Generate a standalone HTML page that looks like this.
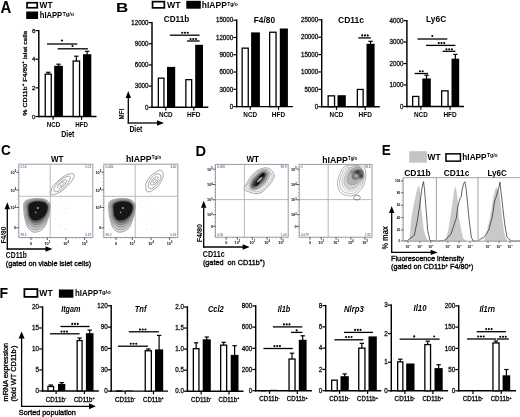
<!DOCTYPE html>
<html><head><meta charset="utf-8"><style>
html,body{margin:0;padding:0;background:#fff;}
svg{display:block;font-family:"Liberation Sans",sans-serif;will-change:transform;}
</style></head><body>
<svg width="520" height="417" viewBox="0 0 520 417">
<rect width="520" height="417" fill="#fff"/>
<defs><filter id="bl1" x="-20%" y="-20%" width="140%" height="140%"><feGaussianBlur stdDeviation="0.7"/></filter>
<filter id="bl2" x="-20%" y="-20%" width="140%" height="140%"><feGaussianBlur stdDeviation="0.55"/></filter>
<filter id="bl3" x="-50%" y="-50%" width="200%" height="200%"><feGaussianBlur stdDeviation="0.9"/></filter></defs>
<text x="0.5" y="13.1" font-size="16" text-anchor="start" font-weight="bold" textLength="10.8" lengthAdjust="spacingAndGlyphs">A</text>
<rect x="27.05" y="2.75" width="10.2" height="5" fill="#fff" stroke="#000" stroke-width="1.7"/>
<rect x="26.2" y="11.5" width="11.9" height="7.5" fill="#000"/>
<text x="46" y="8.1" font-size="9.3" text-anchor="middle" font-weight="bold" textLength="13" lengthAdjust="spacingAndGlyphs">WT</text>
<text x="51" y="18.1" font-size="9" text-anchor="middle" font-weight="bold" textLength="22.4" lengthAdjust="spacingAndGlyphs">hIAPP</text>
<text x="68.3" y="15.93" font-size="5.6" text-anchor="middle" font-weight="bold" textLength="11.6" lengthAdjust="spacingAndGlyphs">Tg/o</text>
<line x1="38.8" y1="29.9" x2="38.8" y2="117.2" stroke="#000" stroke-width="1.45"/>
<line x1="35.4" y1="116.5" x2="38.8" y2="116.5" stroke="#000" stroke-width="1.2"/>
<text x="35.3" y="118.56" font-size="6" text-anchor="end" stroke="#111" stroke-width="0.27" fill="#111">0</text>
<line x1="35.4" y1="87.86" x2="38.8" y2="87.86" stroke="#000" stroke-width="1.2"/>
<text x="35.3" y="89.92" font-size="6" text-anchor="end" stroke="#111" stroke-width="0.27" fill="#111">2</text>
<line x1="35.4" y1="59.22" x2="38.8" y2="59.22" stroke="#000" stroke-width="1.2"/>
<text x="35.3" y="61.28" font-size="6" text-anchor="end" stroke="#111" stroke-width="0.27" fill="#111">4</text>
<line x1="35.4" y1="30.58" x2="38.8" y2="30.58" stroke="#000" stroke-width="1.2"/>
<text x="35.3" y="32.64" font-size="6" text-anchor="end" stroke="#111" stroke-width="0.27" fill="#111">6</text>
<line x1="38.1" y1="116.5" x2="96.5" y2="116.5" stroke="#000" stroke-width="1.45"/>
<line x1="53.1" y1="116.5" x2="53.1" y2="119.7" stroke="#000" stroke-width="1.2"/>
<line x1="81.6" y1="116.5" x2="81.6" y2="119.7" stroke="#000" stroke-width="1.2"/>
<rect x="45.25" y="74.15" width="6" height="42.35" fill="#fff" stroke="#000" stroke-width="1.3"/>
<line x1="48.25" y1="72.3" x2="48.25" y2="74" stroke="#000" stroke-width="1.2"/>
<line x1="46.05" y1="72.3" x2="50.45" y2="72.3" stroke="#000" stroke-width="1.2"/>
<rect x="54.2" y="65.8" width="8.7" height="50.7" fill="#000"/>
<line x1="58.55" y1="64.2" x2="58.55" y2="66.3" stroke="#000" stroke-width="1.2"/>
<line x1="56.35" y1="64.2" x2="60.75" y2="64.2" stroke="#000" stroke-width="1.2"/>
<rect x="73.15" y="61.05" width="6.4" height="55.45" fill="#fff" stroke="#000" stroke-width="1.3"/>
<line x1="76.35" y1="56.2" x2="76.35" y2="60.9" stroke="#000" stroke-width="1.2"/>
<line x1="74.15" y1="56.2" x2="78.55" y2="56.2" stroke="#000" stroke-width="1.2"/>
<rect x="83" y="54.2" width="8.3" height="62.3" fill="#000"/>
<line x1="87.15" y1="51.3" x2="87.15" y2="54.7" stroke="#000" stroke-width="1.2"/>
<line x1="84.95" y1="51.3" x2="89.35" y2="51.3" stroke="#000" stroke-width="1.2"/>
<line x1="47" y1="44" x2="77.3" y2="44" stroke="#000" stroke-width="1.3"/>
<circle cx="62" cy="40.5" r="1.05" fill="#000"/>
<line x1="57.7" y1="48.8" x2="87.9" y2="48.8" stroke="#000" stroke-width="1.3"/>
<circle cx="72.5" cy="46" r="1.05" fill="#000"/>
<text x="53.45" y="126.57" font-size="6.3" text-anchor="middle" font-weight="bold" textLength="13.5" lengthAdjust="spacingAndGlyphs">NCD</text>
<text x="81.55" y="126.57" font-size="6.3" text-anchor="middle" font-weight="bold" textLength="12.7" lengthAdjust="spacingAndGlyphs">HFD</text>
<text x="67.85" y="136.89" font-size="8.4" text-anchor="middle" font-weight="bold" textLength="13.1" lengthAdjust="spacingAndGlyphs">Diet</text>
<text x="24.4" y="75.43" font-size="6.2" text-anchor="middle" stroke="#000" stroke-width="0.28" textLength="85" lengthAdjust="spacingAndGlyphs" transform="rotate(-90 24.4 73.3)">% CD11b<tspan font-size="4" dy="-2.5">+</tspan><tspan dy="2.5"> F4/80</tspan><tspan font-size="4" dy="-2.5">+</tspan><tspan dy="2.5"> islet cells</tspan></text>
<text x="116" y="12.14" font-size="13.5" text-anchor="start" font-weight="bold" textLength="12.3" lengthAdjust="spacingAndGlyphs">B</text>
<rect x="152.55" y="1.65" width="11.8" height="6.2" fill="#fff" stroke="#000" stroke-width="1.7"/>
<rect x="186.3" y="0.8" width="14.5" height="7.9" fill="#000"/>
<text x="173.85" y="7.7" font-size="9" text-anchor="middle" font-weight="bold" textLength="13.5" lengthAdjust="spacingAndGlyphs">WT</text>
<text x="214.3" y="7.7" font-size="9" text-anchor="middle" font-weight="bold" textLength="25" lengthAdjust="spacingAndGlyphs">hIAPP</text>
<text x="232.5" y="5.53" font-size="5.6" text-anchor="middle" font-weight="bold" textLength="10.6" lengthAdjust="spacingAndGlyphs">Tg/o</text>
<line x1="128.3" y1="123.6" x2="128.3" y2="97.4" stroke="#000" stroke-width="1.3"/>
<path d="M128.3 90.9 L125.6 97.9 L131 97.9 Z" fill="#000" stroke="none" stroke-width="1"/>
<line x1="127.65" y1="123" x2="157.5" y2="123" stroke="#000" stroke-width="1.3"/>
<path d="M164 123 L157 120.3 L157 125.7 Z" fill="#000" stroke="none" stroke-width="1"/>
<text x="121.7" y="116.68" font-size="7.8" text-anchor="middle" font-weight="bold" textLength="10.8" lengthAdjust="spacingAndGlyphs" transform="rotate(-90 121.7 114)">MFI</text>
<text x="135.9" y="131.52" font-size="8.2" text-anchor="middle" font-weight="bold" textLength="13" lengthAdjust="spacingAndGlyphs">Diet</text>
<line x1="152" y1="21.9" x2="152" y2="108" stroke="#000" stroke-width="1.45"/>
<line x1="148.6" y1="107.3" x2="152" y2="107.3" stroke="#000" stroke-width="1.2"/>
<text x="148.5" y="109.5" font-size="6.4" text-anchor="end" stroke="#111" stroke-width="0.29" fill="#111" textLength="3.45" lengthAdjust="spacingAndGlyphs">0</text>
<line x1="148.6" y1="86.12" x2="152" y2="86.12" stroke="#000" stroke-width="1.2"/>
<text x="148.5" y="88.33" font-size="6.4" text-anchor="end" stroke="#111" stroke-width="0.29" fill="#111" textLength="13.8" lengthAdjust="spacingAndGlyphs">3000</text>
<line x1="148.6" y1="64.95" x2="152" y2="64.95" stroke="#000" stroke-width="1.2"/>
<text x="148.5" y="67.15" font-size="6.4" text-anchor="end" stroke="#111" stroke-width="0.29" fill="#111" textLength="13.8" lengthAdjust="spacingAndGlyphs">6000</text>
<line x1="148.6" y1="43.78" x2="152" y2="43.78" stroke="#000" stroke-width="1.2"/>
<text x="148.5" y="45.98" font-size="6.4" text-anchor="end" stroke="#111" stroke-width="0.29" fill="#111" textLength="13.8" lengthAdjust="spacingAndGlyphs">9000</text>
<line x1="148.6" y1="22.6" x2="152" y2="22.6" stroke="#000" stroke-width="1.2"/>
<text x="148.5" y="24.8" font-size="6.4" text-anchor="end" stroke="#111" stroke-width="0.29" fill="#111" textLength="17.25" lengthAdjust="spacingAndGlyphs">12000</text>
<line x1="151.3" y1="107.3" x2="208.3" y2="107.3" stroke="#000" stroke-width="1.45"/>
<line x1="165.8" y1="107.3" x2="165.8" y2="110.5" stroke="#000" stroke-width="1.2"/>
<line x1="193.8" y1="107.3" x2="193.8" y2="110.5" stroke="#000" stroke-width="1.2"/>
<rect x="158.35" y="78.15" width="5.6" height="29.15" fill="#fff" stroke="#000" stroke-width="1.3"/>
<rect x="167" y="66.9" width="8.2" height="40.4" fill="#000"/>
<rect x="185.85" y="79.65" width="5.8" height="27.65" fill="#fff" stroke="#000" stroke-width="1.3"/>
<rect x="195.2" y="44.8" width="7.8" height="62.5" fill="#000"/>
<text x="176.5" y="21.83" font-size="9.4" text-anchor="middle" font-weight="bold" textLength="25.4" lengthAdjust="spacingAndGlyphs">CD11b</text>
<line x1="169.8" y1="35.2" x2="199.6" y2="35.2" stroke="#000" stroke-width="1.3"/>
<circle cx="182.25" cy="32.8" r="1.05" fill="#000"/>
<circle cx="185" cy="32.8" r="1.05" fill="#000"/>
<circle cx="187.75" cy="32.8" r="1.05" fill="#000"/>
<line x1="187" y1="41" x2="199.6" y2="41" stroke="#000" stroke-width="1.3"/>
<circle cx="190.55" cy="39" r="1.05" fill="#000"/>
<circle cx="193.3" cy="39" r="1.05" fill="#000"/>
<circle cx="196.05" cy="39" r="1.05" fill="#000"/>
<text x="165.8" y="117.47" font-size="6.6" text-anchor="middle" font-weight="bold" textLength="13.8" lengthAdjust="spacingAndGlyphs">NCD</text>
<text x="193.8" y="117.47" font-size="6.6" text-anchor="middle" font-weight="bold" textLength="13.4" lengthAdjust="spacingAndGlyphs">HFD</text>
<line x1="236.7" y1="19.5" x2="236.7" y2="107.3" stroke="#000" stroke-width="1.45"/>
<line x1="233.3" y1="106.6" x2="236.7" y2="106.6" stroke="#000" stroke-width="1.2"/>
<text x="233.2" y="108.8" font-size="6.4" text-anchor="end" stroke="#111" stroke-width="0.29" fill="#111" textLength="3.45" lengthAdjust="spacingAndGlyphs">0</text>
<line x1="233.3" y1="89.32" x2="236.7" y2="89.32" stroke="#000" stroke-width="1.2"/>
<text x="233.2" y="91.52" font-size="6.4" text-anchor="end" stroke="#111" stroke-width="0.29" fill="#111" textLength="13.8" lengthAdjust="spacingAndGlyphs">3000</text>
<line x1="233.3" y1="72.04" x2="236.7" y2="72.04" stroke="#000" stroke-width="1.2"/>
<text x="233.2" y="74.24" font-size="6.4" text-anchor="end" stroke="#111" stroke-width="0.29" fill="#111" textLength="13.8" lengthAdjust="spacingAndGlyphs">6000</text>
<line x1="233.3" y1="54.76" x2="236.7" y2="54.76" stroke="#000" stroke-width="1.2"/>
<text x="233.2" y="56.96" font-size="6.4" text-anchor="end" stroke="#111" stroke-width="0.29" fill="#111" textLength="13.8" lengthAdjust="spacingAndGlyphs">9000</text>
<line x1="233.3" y1="37.48" x2="236.7" y2="37.48" stroke="#000" stroke-width="1.2"/>
<text x="233.2" y="39.68" font-size="6.4" text-anchor="end" stroke="#111" stroke-width="0.29" fill="#111" textLength="17.25" lengthAdjust="spacingAndGlyphs">12000</text>
<line x1="233.3" y1="20.2" x2="236.7" y2="20.2" stroke="#000" stroke-width="1.2"/>
<text x="233.2" y="22.4" font-size="6.4" text-anchor="end" stroke="#111" stroke-width="0.29" fill="#111" textLength="17.25" lengthAdjust="spacingAndGlyphs">15000</text>
<line x1="236" y1="106.6" x2="292.9" y2="106.6" stroke="#000" stroke-width="1.45"/>
<line x1="250.2" y1="106.6" x2="250.2" y2="109.8" stroke="#000" stroke-width="1.2"/>
<line x1="278.5" y1="106.6" x2="278.5" y2="109.8" stroke="#000" stroke-width="1.2"/>
<rect x="242.15" y="48.15" width="6.1" height="58.45" fill="#fff" stroke="#000" stroke-width="1.3"/>
<rect x="251.1" y="32.4" width="8.8" height="74.2" fill="#000"/>
<rect x="269.65" y="32.25" width="6.4" height="74.35" fill="#fff" stroke="#000" stroke-width="1.3"/>
<rect x="279.8" y="28.5" width="8.1" height="78.1" fill="#000"/>
<text x="264.4" y="23.43" font-size="9.4" text-anchor="middle" font-weight="bold" textLength="21.2" lengthAdjust="spacingAndGlyphs">F4/80</text>
<text x="250.2" y="116.77" font-size="6.6" text-anchor="middle" font-weight="bold" textLength="13.8" lengthAdjust="spacingAndGlyphs">NCD</text>
<text x="278.5" y="116.77" font-size="6.6" text-anchor="middle" font-weight="bold" textLength="13.4" lengthAdjust="spacingAndGlyphs">HFD</text>
<line x1="321.7" y1="19.1" x2="321.7" y2="107.4" stroke="#000" stroke-width="1.45"/>
<line x1="318.3" y1="106.7" x2="321.7" y2="106.7" stroke="#000" stroke-width="1.2"/>
<text x="318.2" y="108.9" font-size="6.4" text-anchor="end" stroke="#111" stroke-width="0.29" fill="#111" textLength="3.45" lengthAdjust="spacingAndGlyphs">0</text>
<line x1="318.3" y1="89.32" x2="321.7" y2="89.32" stroke="#000" stroke-width="1.2"/>
<text x="318.2" y="91.52" font-size="6.4" text-anchor="end" stroke="#111" stroke-width="0.29" fill="#111" textLength="13.8" lengthAdjust="spacingAndGlyphs">5000</text>
<line x1="318.3" y1="71.94" x2="321.7" y2="71.94" stroke="#000" stroke-width="1.2"/>
<text x="318.2" y="74.14" font-size="6.4" text-anchor="end" stroke="#111" stroke-width="0.29" fill="#111" textLength="17.25" lengthAdjust="spacingAndGlyphs">10000</text>
<line x1="318.3" y1="54.56" x2="321.7" y2="54.56" stroke="#000" stroke-width="1.2"/>
<text x="318.2" y="56.76" font-size="6.4" text-anchor="end" stroke="#111" stroke-width="0.29" fill="#111" textLength="17.25" lengthAdjust="spacingAndGlyphs">15000</text>
<line x1="318.3" y1="37.18" x2="321.7" y2="37.18" stroke="#000" stroke-width="1.2"/>
<text x="318.2" y="39.38" font-size="6.4" text-anchor="end" stroke="#111" stroke-width="0.29" fill="#111" textLength="17.25" lengthAdjust="spacingAndGlyphs">20000</text>
<line x1="318.3" y1="19.8" x2="321.7" y2="19.8" stroke="#000" stroke-width="1.2"/>
<text x="318.2" y="22" font-size="6.4" text-anchor="end" stroke="#111" stroke-width="0.29" fill="#111" textLength="17.25" lengthAdjust="spacingAndGlyphs">25000</text>
<line x1="321" y1="106.7" x2="379.8" y2="106.7" stroke="#000" stroke-width="1.45"/>
<line x1="336.5" y1="106.7" x2="336.5" y2="109.9" stroke="#000" stroke-width="1.2"/>
<line x1="365.2" y1="106.7" x2="365.2" y2="109.9" stroke="#000" stroke-width="1.2"/>
<rect x="328.15" y="95.85" width="6.4" height="10.85" fill="#fff" stroke="#000" stroke-width="1.3"/>
<rect x="337.5" y="95.2" width="8.3" height="11.5" fill="#000"/>
<rect x="357.35" y="89.45" width="5.8" height="17.25" fill="#fff" stroke="#000" stroke-width="1.3"/>
<rect x="366.5" y="43.8" width="8.1" height="62.9" fill="#000"/>
<line x1="370.55" y1="41.3" x2="370.55" y2="44.3" stroke="#000" stroke-width="1.2"/>
<line x1="368.35" y1="41.3" x2="372.75" y2="41.3" stroke="#000" stroke-width="1.2"/>
<text x="351" y="23.23" font-size="9.4" text-anchor="middle" font-weight="bold" textLength="26" lengthAdjust="spacingAndGlyphs">CD11c</text>
<line x1="358.3" y1="37.9" x2="370.8" y2="37.9" stroke="#000" stroke-width="1.3"/>
<circle cx="362.25" cy="35.4" r="1.05" fill="#000"/>
<circle cx="365" cy="35.4" r="1.05" fill="#000"/>
<circle cx="367.75" cy="35.4" r="1.05" fill="#000"/>
<text x="336.5" y="116.87" font-size="6.6" text-anchor="middle" font-weight="bold" textLength="13.8" lengthAdjust="spacingAndGlyphs">NCD</text>
<text x="365.2" y="116.87" font-size="6.6" text-anchor="middle" font-weight="bold" textLength="13.4" lengthAdjust="spacingAndGlyphs">HFD</text>
<line x1="406.9" y1="19.9" x2="406.9" y2="107.2" stroke="#000" stroke-width="1.45"/>
<line x1="403.5" y1="106.5" x2="406.9" y2="106.5" stroke="#000" stroke-width="1.2"/>
<text x="403.4" y="108.7" font-size="6.4" text-anchor="end" stroke="#111" stroke-width="0.29" fill="#111" textLength="3.45" lengthAdjust="spacingAndGlyphs">0</text>
<line x1="403.5" y1="85.03" x2="406.9" y2="85.03" stroke="#000" stroke-width="1.2"/>
<text x="403.4" y="87.23" font-size="6.4" text-anchor="end" stroke="#111" stroke-width="0.29" fill="#111" textLength="13.8" lengthAdjust="spacingAndGlyphs">1000</text>
<line x1="403.5" y1="63.55" x2="406.9" y2="63.55" stroke="#000" stroke-width="1.2"/>
<text x="403.4" y="65.75" font-size="6.4" text-anchor="end" stroke="#111" stroke-width="0.29" fill="#111" textLength="13.8" lengthAdjust="spacingAndGlyphs">2000</text>
<line x1="403.5" y1="42.07" x2="406.9" y2="42.07" stroke="#000" stroke-width="1.2"/>
<text x="403.4" y="44.28" font-size="6.4" text-anchor="end" stroke="#111" stroke-width="0.29" fill="#111" textLength="13.8" lengthAdjust="spacingAndGlyphs">3000</text>
<line x1="403.5" y1="20.6" x2="406.9" y2="20.6" stroke="#000" stroke-width="1.2"/>
<text x="403.4" y="22.8" font-size="6.4" text-anchor="end" stroke="#111" stroke-width="0.29" fill="#111" textLength="13.8" lengthAdjust="spacingAndGlyphs">4000</text>
<line x1="406.2" y1="106.5" x2="464" y2="106.5" stroke="#000" stroke-width="1.45"/>
<line x1="420.9" y1="106.5" x2="420.9" y2="109.7" stroke="#000" stroke-width="1.2"/>
<line x1="450.1" y1="106.5" x2="450.1" y2="109.7" stroke="#000" stroke-width="1.2"/>
<rect x="412.65" y="96.45" width="6.1" height="10.05" fill="#fff" stroke="#000" stroke-width="1.3"/>
<rect x="422.3" y="78.5" width="8.5" height="28" fill="#000"/>
<line x1="426.55" y1="75.2" x2="426.55" y2="79" stroke="#000" stroke-width="1.2"/>
<line x1="424.35" y1="75.2" x2="428.75" y2="75.2" stroke="#000" stroke-width="1.2"/>
<rect x="441.65" y="90.85" width="6.4" height="15.65" fill="#fff" stroke="#000" stroke-width="1.3"/>
<rect x="451.5" y="58.7" width="7.7" height="47.8" fill="#000"/>
<line x1="455.35" y1="54.4" x2="455.35" y2="59.2" stroke="#000" stroke-width="1.2"/>
<line x1="453.15" y1="54.4" x2="457.55" y2="54.4" stroke="#000" stroke-width="1.2"/>
<text x="436.15" y="22.43" font-size="9.4" text-anchor="middle" font-weight="bold" textLength="20.3" lengthAdjust="spacingAndGlyphs">Ly6C</text>
<line x1="417.5" y1="39" x2="447.3" y2="39" stroke="#000" stroke-width="1.3"/>
<circle cx="432.3" cy="36" r="1.05" fill="#000"/>
<line x1="426" y1="45.4" x2="455.4" y2="45.4" stroke="#000" stroke-width="1.3"/>
<circle cx="438.75" cy="43.1" r="1.05" fill="#000"/>
<circle cx="441.5" cy="43.1" r="1.05" fill="#000"/>
<circle cx="444.25" cy="43.1" r="1.05" fill="#000"/>
<line x1="442.5" y1="51.3" x2="455.4" y2="51.3" stroke="#000" stroke-width="1.3"/>
<circle cx="446.45" cy="49.3" r="1.05" fill="#000"/>
<circle cx="449.2" cy="49.3" r="1.05" fill="#000"/>
<circle cx="451.95" cy="49.3" r="1.05" fill="#000"/>
<line x1="414.6" y1="73.5" x2="428" y2="73.5" stroke="#000" stroke-width="1.3"/>
<circle cx="419.93" cy="71.2" r="1.05" fill="#000"/>
<circle cx="422.68" cy="71.2" r="1.05" fill="#000"/>
<text x="420.9" y="116.67" font-size="6.6" text-anchor="middle" font-weight="bold" textLength="13.8" lengthAdjust="spacingAndGlyphs">NCD</text>
<text x="450.1" y="116.67" font-size="6.6" text-anchor="middle" font-weight="bold" textLength="13.4" lengthAdjust="spacingAndGlyphs">HFD</text>
<text x="1" y="155.42" font-size="14" text-anchor="start" font-weight="bold" textLength="9.8" lengthAdjust="spacingAndGlyphs">C</text>
<text x="57.25" y="162.16" font-size="8.6" text-anchor="middle" font-weight="bold" textLength="12.5" lengthAdjust="spacingAndGlyphs">WT</text>
<text x="138.75" y="161.96" font-size="8.6" text-anchor="middle" font-weight="bold" textLength="25.5" lengthAdjust="spacingAndGlyphs">hIAPP</text>
<text x="156.5" y="159.42" font-size="5.3" text-anchor="middle" font-weight="bold" textLength="9.4" lengthAdjust="spacingAndGlyphs">Tg/o</text>
<rect x="18.8" y="164.2" width="74" height="73.3" fill="none" stroke="#9a9aa6" stroke-width="1"/>
<line x1="50.2" y1="164.2" x2="50.2" y2="237.5" stroke="#a8a8b0" stroke-width="0.8"/>
<line x1="18.8" y1="196.3" x2="92.8" y2="196.3" stroke="#a8a8b0" stroke-width="0.8"/>
<line x1="17.4" y1="167.2" x2="18.8" y2="167.2" stroke="#999" stroke-width="0.45"/>
<line x1="17.4" y1="170.8" x2="18.8" y2="170.8" stroke="#999" stroke-width="0.45"/>
<line x1="17.4" y1="174.4" x2="18.8" y2="174.4" stroke="#999" stroke-width="0.45"/>
<line x1="17.4" y1="178" x2="18.8" y2="178" stroke="#999" stroke-width="0.45"/>
<line x1="17.4" y1="181.6" x2="18.8" y2="181.6" stroke="#999" stroke-width="0.45"/>
<line x1="17.4" y1="185.2" x2="18.8" y2="185.2" stroke="#999" stroke-width="0.45"/>
<line x1="17.4" y1="188.8" x2="18.8" y2="188.8" stroke="#999" stroke-width="0.45"/>
<line x1="17.4" y1="192.4" x2="18.8" y2="192.4" stroke="#999" stroke-width="0.45"/>
<line x1="17.4" y1="196" x2="18.8" y2="196" stroke="#999" stroke-width="0.45"/>
<line x1="17.4" y1="199.6" x2="18.8" y2="199.6" stroke="#999" stroke-width="0.45"/>
<line x1="17.4" y1="203.2" x2="18.8" y2="203.2" stroke="#999" stroke-width="0.45"/>
<line x1="17.4" y1="206.8" x2="18.8" y2="206.8" stroke="#999" stroke-width="0.45"/>
<line x1="17.4" y1="210.4" x2="18.8" y2="210.4" stroke="#999" stroke-width="0.45"/>
<line x1="17.4" y1="214" x2="18.8" y2="214" stroke="#999" stroke-width="0.45"/>
<line x1="17.4" y1="217.6" x2="18.8" y2="217.6" stroke="#999" stroke-width="0.45"/>
<line x1="17.4" y1="221.2" x2="18.8" y2="221.2" stroke="#999" stroke-width="0.45"/>
<line x1="17.4" y1="224.8" x2="18.8" y2="224.8" stroke="#999" stroke-width="0.45"/>
<line x1="17.4" y1="228.4" x2="18.8" y2="228.4" stroke="#999" stroke-width="0.45"/>
<line x1="17.4" y1="232" x2="18.8" y2="232" stroke="#999" stroke-width="0.45"/>
<line x1="17.4" y1="235.6" x2="18.8" y2="235.6" stroke="#999" stroke-width="0.45"/>
<line x1="21.8" y1="237.5" x2="21.8" y2="238.9" stroke="#999" stroke-width="0.45"/>
<line x1="25.4" y1="237.5" x2="25.4" y2="238.9" stroke="#999" stroke-width="0.45"/>
<line x1="29" y1="237.5" x2="29" y2="238.9" stroke="#999" stroke-width="0.45"/>
<line x1="32.6" y1="237.5" x2="32.6" y2="238.9" stroke="#999" stroke-width="0.45"/>
<line x1="36.2" y1="237.5" x2="36.2" y2="238.9" stroke="#999" stroke-width="0.45"/>
<line x1="39.8" y1="237.5" x2="39.8" y2="238.9" stroke="#999" stroke-width="0.45"/>
<line x1="43.4" y1="237.5" x2="43.4" y2="238.9" stroke="#999" stroke-width="0.45"/>
<line x1="47" y1="237.5" x2="47" y2="238.9" stroke="#999" stroke-width="0.45"/>
<line x1="50.6" y1="237.5" x2="50.6" y2="238.9" stroke="#999" stroke-width="0.45"/>
<line x1="54.2" y1="237.5" x2="54.2" y2="238.9" stroke="#999" stroke-width="0.45"/>
<line x1="57.8" y1="237.5" x2="57.8" y2="238.9" stroke="#999" stroke-width="0.45"/>
<line x1="61.4" y1="237.5" x2="61.4" y2="238.9" stroke="#999" stroke-width="0.45"/>
<line x1="65" y1="237.5" x2="65" y2="238.9" stroke="#999" stroke-width="0.45"/>
<line x1="68.6" y1="237.5" x2="68.6" y2="238.9" stroke="#999" stroke-width="0.45"/>
<line x1="72.2" y1="237.5" x2="72.2" y2="238.9" stroke="#999" stroke-width="0.45"/>
<line x1="75.8" y1="237.5" x2="75.8" y2="238.9" stroke="#999" stroke-width="0.45"/>
<line x1="79.4" y1="237.5" x2="79.4" y2="238.9" stroke="#999" stroke-width="0.45"/>
<line x1="83" y1="237.5" x2="83" y2="238.9" stroke="#999" stroke-width="0.45"/>
<line x1="86.6" y1="237.5" x2="86.6" y2="238.9" stroke="#999" stroke-width="0.45"/>
<line x1="90.2" y1="237.5" x2="90.2" y2="238.9" stroke="#999" stroke-width="0.45"/>
<line x1="16.3" y1="172.3" x2="18.8" y2="172.3" stroke="#333" stroke-width="0.8"/>
<text x="16.2" y="173.9" font-size="3.8" text-anchor="end" font-weight="bold">10<tspan font-size="2.6" dy="-1.6">5</tspan></text>
<line x1="16.3" y1="190" x2="18.8" y2="190" stroke="#333" stroke-width="0.8"/>
<text x="16.2" y="191.6" font-size="3.8" text-anchor="end" font-weight="bold">10<tspan font-size="2.6" dy="-1.6">4</tspan></text>
<line x1="16.3" y1="207.5" x2="18.8" y2="207.5" stroke="#333" stroke-width="0.8"/>
<text x="16.2" y="209.1" font-size="3.8" text-anchor="end" font-weight="bold">10<tspan font-size="2.6" dy="-1.6">3</tspan></text>
<line x1="16.3" y1="227.8" x2="18.8" y2="227.8" stroke="#333" stroke-width="0.8"/>
<text x="16.2" y="229.4" font-size="3.8" text-anchor="end" font-weight="bold">0</text>
<line x1="31" y1="237.5" x2="31" y2="240" stroke="#333" stroke-width="0.8"/>
<text x="31" y="245" font-size="3.8" text-anchor="middle" font-weight="bold">0</text>
<line x1="47.3" y1="237.5" x2="47.3" y2="240" stroke="#333" stroke-width="0.8"/>
<text x="47.3" y="245" font-size="3.8" text-anchor="middle" font-weight="bold">10<tspan font-size="2.6" dy="-1.6">3</tspan></text>
<line x1="66" y1="237.5" x2="66" y2="240" stroke="#333" stroke-width="0.8"/>
<text x="66" y="245" font-size="3.8" text-anchor="middle" font-weight="bold">10<tspan font-size="2.6" dy="-1.6">4</tspan></text>
<line x1="84.6" y1="237.5" x2="84.6" y2="240" stroke="#333" stroke-width="0.8"/>
<text x="84.6" y="245" font-size="3.8" text-anchor="middle" font-weight="bold">10<tspan font-size="2.6" dy="-1.6">5</tspan></text>
<text x="20.4" y="168.1" font-size="3.2" text-anchor="start" fill="#3a3a7a">0.14</text>
<text x="91.4" y="168.1" font-size="3.2" text-anchor="end" fill="#3a3a7a">0.11</text>
<text x="20.4" y="236" font-size="3.2" text-anchor="start" fill="#3a3a7a">98.5</text>
<text x="91.4" y="236" font-size="3.2" text-anchor="end" fill="#3a3a7a">0.19</text>
<rect x="103.8" y="164.2" width="74" height="73.3" fill="none" stroke="#9a9aa6" stroke-width="1"/>
<line x1="135.2" y1="164.2" x2="135.2" y2="237.5" stroke="#a8a8b0" stroke-width="0.8"/>
<line x1="103.8" y1="196.3" x2="177.8" y2="196.3" stroke="#a8a8b0" stroke-width="0.8"/>
<line x1="102.4" y1="167.2" x2="103.8" y2="167.2" stroke="#999" stroke-width="0.45"/>
<line x1="102.4" y1="170.8" x2="103.8" y2="170.8" stroke="#999" stroke-width="0.45"/>
<line x1="102.4" y1="174.4" x2="103.8" y2="174.4" stroke="#999" stroke-width="0.45"/>
<line x1="102.4" y1="178" x2="103.8" y2="178" stroke="#999" stroke-width="0.45"/>
<line x1="102.4" y1="181.6" x2="103.8" y2="181.6" stroke="#999" stroke-width="0.45"/>
<line x1="102.4" y1="185.2" x2="103.8" y2="185.2" stroke="#999" stroke-width="0.45"/>
<line x1="102.4" y1="188.8" x2="103.8" y2="188.8" stroke="#999" stroke-width="0.45"/>
<line x1="102.4" y1="192.4" x2="103.8" y2="192.4" stroke="#999" stroke-width="0.45"/>
<line x1="102.4" y1="196" x2="103.8" y2="196" stroke="#999" stroke-width="0.45"/>
<line x1="102.4" y1="199.6" x2="103.8" y2="199.6" stroke="#999" stroke-width="0.45"/>
<line x1="102.4" y1="203.2" x2="103.8" y2="203.2" stroke="#999" stroke-width="0.45"/>
<line x1="102.4" y1="206.8" x2="103.8" y2="206.8" stroke="#999" stroke-width="0.45"/>
<line x1="102.4" y1="210.4" x2="103.8" y2="210.4" stroke="#999" stroke-width="0.45"/>
<line x1="102.4" y1="214" x2="103.8" y2="214" stroke="#999" stroke-width="0.45"/>
<line x1="102.4" y1="217.6" x2="103.8" y2="217.6" stroke="#999" stroke-width="0.45"/>
<line x1="102.4" y1="221.2" x2="103.8" y2="221.2" stroke="#999" stroke-width="0.45"/>
<line x1="102.4" y1="224.8" x2="103.8" y2="224.8" stroke="#999" stroke-width="0.45"/>
<line x1="102.4" y1="228.4" x2="103.8" y2="228.4" stroke="#999" stroke-width="0.45"/>
<line x1="102.4" y1="232" x2="103.8" y2="232" stroke="#999" stroke-width="0.45"/>
<line x1="102.4" y1="235.6" x2="103.8" y2="235.6" stroke="#999" stroke-width="0.45"/>
<line x1="106.8" y1="237.5" x2="106.8" y2="238.9" stroke="#999" stroke-width="0.45"/>
<line x1="110.4" y1="237.5" x2="110.4" y2="238.9" stroke="#999" stroke-width="0.45"/>
<line x1="114" y1="237.5" x2="114" y2="238.9" stroke="#999" stroke-width="0.45"/>
<line x1="117.6" y1="237.5" x2="117.6" y2="238.9" stroke="#999" stroke-width="0.45"/>
<line x1="121.2" y1="237.5" x2="121.2" y2="238.9" stroke="#999" stroke-width="0.45"/>
<line x1="124.8" y1="237.5" x2="124.8" y2="238.9" stroke="#999" stroke-width="0.45"/>
<line x1="128.4" y1="237.5" x2="128.4" y2="238.9" stroke="#999" stroke-width="0.45"/>
<line x1="132" y1="237.5" x2="132" y2="238.9" stroke="#999" stroke-width="0.45"/>
<line x1="135.6" y1="237.5" x2="135.6" y2="238.9" stroke="#999" stroke-width="0.45"/>
<line x1="139.2" y1="237.5" x2="139.2" y2="238.9" stroke="#999" stroke-width="0.45"/>
<line x1="142.8" y1="237.5" x2="142.8" y2="238.9" stroke="#999" stroke-width="0.45"/>
<line x1="146.4" y1="237.5" x2="146.4" y2="238.9" stroke="#999" stroke-width="0.45"/>
<line x1="150" y1="237.5" x2="150" y2="238.9" stroke="#999" stroke-width="0.45"/>
<line x1="153.6" y1="237.5" x2="153.6" y2="238.9" stroke="#999" stroke-width="0.45"/>
<line x1="157.2" y1="237.5" x2="157.2" y2="238.9" stroke="#999" stroke-width="0.45"/>
<line x1="160.8" y1="237.5" x2="160.8" y2="238.9" stroke="#999" stroke-width="0.45"/>
<line x1="164.4" y1="237.5" x2="164.4" y2="238.9" stroke="#999" stroke-width="0.45"/>
<line x1="168" y1="237.5" x2="168" y2="238.9" stroke="#999" stroke-width="0.45"/>
<line x1="171.6" y1="237.5" x2="171.6" y2="238.9" stroke="#999" stroke-width="0.45"/>
<line x1="175.2" y1="237.5" x2="175.2" y2="238.9" stroke="#999" stroke-width="0.45"/>
<line x1="101.3" y1="172.3" x2="103.8" y2="172.3" stroke="#333" stroke-width="0.8"/>
<text x="101.2" y="173.9" font-size="3.8" text-anchor="end" font-weight="bold">10<tspan font-size="2.6" dy="-1.6">5</tspan></text>
<line x1="101.3" y1="190" x2="103.8" y2="190" stroke="#333" stroke-width="0.8"/>
<text x="101.2" y="191.6" font-size="3.8" text-anchor="end" font-weight="bold">10<tspan font-size="2.6" dy="-1.6">4</tspan></text>
<line x1="101.3" y1="207.5" x2="103.8" y2="207.5" stroke="#333" stroke-width="0.8"/>
<text x="101.2" y="209.1" font-size="3.8" text-anchor="end" font-weight="bold">10<tspan font-size="2.6" dy="-1.6">3</tspan></text>
<line x1="101.3" y1="227.8" x2="103.8" y2="227.8" stroke="#333" stroke-width="0.8"/>
<text x="101.2" y="229.4" font-size="3.8" text-anchor="end" font-weight="bold">0</text>
<line x1="116" y1="237.5" x2="116" y2="240" stroke="#333" stroke-width="0.8"/>
<text x="116" y="245" font-size="3.8" text-anchor="middle" font-weight="bold">0</text>
<line x1="132.3" y1="237.5" x2="132.3" y2="240" stroke="#333" stroke-width="0.8"/>
<text x="132.3" y="245" font-size="3.8" text-anchor="middle" font-weight="bold">10<tspan font-size="2.6" dy="-1.6">3</tspan></text>
<line x1="151" y1="237.5" x2="151" y2="240" stroke="#333" stroke-width="0.8"/>
<text x="151" y="245" font-size="3.8" text-anchor="middle" font-weight="bold">10<tspan font-size="2.6" dy="-1.6">4</tspan></text>
<line x1="169.6" y1="237.5" x2="169.6" y2="240" stroke="#333" stroke-width="0.8"/>
<text x="169.6" y="245" font-size="3.8" text-anchor="middle" font-weight="bold">10<tspan font-size="2.6" dy="-1.6">5</tspan></text>
<text x="105.4" y="168.1" font-size="3.2" text-anchor="start" fill="#3a3a7a">0.026</text>
<text x="176.4" y="168.1" font-size="3.2" text-anchor="end" fill="#3a3a7a">3.40</text>
<text x="105.4" y="236" font-size="3.2" text-anchor="start" fill="#3a3a7a">96.2</text>
<text x="176.4" y="236" font-size="3.2" text-anchor="end" fill="#3a3a7a">0.32</text>
<circle cx="47.14" cy="211.77" r="0.35" fill="#bbb"/>
<circle cx="51.1" cy="214.16" r="0.35" fill="#bbb"/>
<circle cx="58.77" cy="192.62" r="0.35" fill="#bbb"/>
<circle cx="40.4" cy="223.5" r="0.35" fill="#bbb"/>
<circle cx="47.78" cy="199.37" r="0.35" fill="#bbb"/>
<circle cx="69.87" cy="208.81" r="0.35" fill="#bbb"/>
<circle cx="65.09" cy="209.05" r="0.35" fill="#bbb"/>
<circle cx="59.17" cy="196.02" r="0.35" fill="#bbb"/>
<circle cx="59.05" cy="224.72" r="0.35" fill="#bbb"/>
<circle cx="55.7" cy="219.65" r="0.35" fill="#bbb"/>
<circle cx="60.14" cy="192.56" r="0.35" fill="#bbb"/>
<circle cx="62.75" cy="213.64" r="0.35" fill="#bbb"/>
<circle cx="49.04" cy="191.24" r="0.35" fill="#bbb"/>
<circle cx="65.97" cy="208.91" r="0.35" fill="#bbb"/>
<circle cx="61.56" cy="225.15" r="0.35" fill="#bbb"/>
<circle cx="61.42" cy="226.84" r="0.35" fill="#bbb"/>
<circle cx="51.85" cy="222.04" r="0.35" fill="#bbb"/>
<circle cx="53.34" cy="227.42" r="0.35" fill="#bbb"/>
<circle cx="66.37" cy="193.9" r="0.35" fill="#bbb"/>
<circle cx="44.08" cy="198.68" r="0.35" fill="#bbb"/>
<circle cx="68.96" cy="207.45" r="0.35" fill="#bbb"/>
<circle cx="58.8" cy="202.04" r="0.35" fill="#bbb"/>
<circle cx="55.22" cy="205.43" r="0.35" fill="#bbb"/>
<circle cx="50.53" cy="213.4" r="0.35" fill="#bbb"/>
<circle cx="57.53" cy="226.17" r="0.35" fill="#bbb"/>
<circle cx="60.46" cy="227.16" r="0.35" fill="#bbb"/>
<circle cx="65.69" cy="229.64" r="0.35" fill="#bbb"/>
<circle cx="60.14" cy="196.52" r="0.35" fill="#bbb"/>
<circle cx="65.82" cy="228.59" r="0.35" fill="#bbb"/>
<circle cx="67.14" cy="212.76" r="0.35" fill="#bbb"/>
<circle cx="61.41" cy="198.44" r="0.35" fill="#bbb"/>
<circle cx="64.95" cy="212.94" r="0.35" fill="#bbb"/>
<circle cx="48.55" cy="192.54" r="0.35" fill="#bbb"/>
<circle cx="65.62" cy="229.59" r="0.35" fill="#bbb"/>
<circle cx="42.66" cy="222.02" r="0.35" fill="#bbb"/>
<circle cx="52.31" cy="196.03" r="0.35" fill="#bbb"/>
<circle cx="48.82" cy="220.75" r="0.35" fill="#bbb"/>
<circle cx="66.18" cy="191.77" r="0.35" fill="#bbb"/>
<circle cx="58.44" cy="191.8" r="0.35" fill="#bbb"/>
<circle cx="61.55" cy="203.24" r="0.35" fill="#bbb"/>
<circle cx="132.08" cy="194.13" r="0.35" fill="#bbb"/>
<circle cx="136.88" cy="196.2" r="0.35" fill="#bbb"/>
<circle cx="127" cy="206.06" r="0.35" fill="#bbb"/>
<circle cx="152.54" cy="222.02" r="0.35" fill="#bbb"/>
<circle cx="147.95" cy="198.88" r="0.35" fill="#bbb"/>
<circle cx="141.1" cy="201.07" r="0.35" fill="#bbb"/>
<circle cx="130.18" cy="194.25" r="0.35" fill="#bbb"/>
<circle cx="131.43" cy="227.1" r="0.35" fill="#bbb"/>
<circle cx="149.87" cy="222.27" r="0.35" fill="#bbb"/>
<circle cx="149.01" cy="197.74" r="0.35" fill="#bbb"/>
<circle cx="134.3" cy="215.08" r="0.35" fill="#bbb"/>
<circle cx="146.96" cy="224.19" r="0.35" fill="#bbb"/>
<circle cx="151.4" cy="193.47" r="0.35" fill="#bbb"/>
<circle cx="143.18" cy="216.87" r="0.35" fill="#bbb"/>
<circle cx="140.18" cy="197.11" r="0.35" fill="#bbb"/>
<circle cx="139.21" cy="193.57" r="0.35" fill="#bbb"/>
<circle cx="153.04" cy="224.62" r="0.35" fill="#bbb"/>
<circle cx="141.43" cy="202.01" r="0.35" fill="#bbb"/>
<circle cx="152.27" cy="212.89" r="0.35" fill="#bbb"/>
<circle cx="151.47" cy="223.92" r="0.35" fill="#bbb"/>
<circle cx="140.25" cy="206.56" r="0.35" fill="#bbb"/>
<circle cx="142.97" cy="207.24" r="0.35" fill="#bbb"/>
<circle cx="129.84" cy="202.2" r="0.35" fill="#bbb"/>
<circle cx="149.38" cy="191.73" r="0.35" fill="#bbb"/>
<circle cx="126.39" cy="215.05" r="0.35" fill="#bbb"/>
<circle cx="133.41" cy="211.38" r="0.35" fill="#bbb"/>
<circle cx="139.14" cy="203.71" r="0.35" fill="#bbb"/>
<circle cx="154.92" cy="197.82" r="0.35" fill="#bbb"/>
<circle cx="137.38" cy="198.11" r="0.35" fill="#bbb"/>
<circle cx="143.98" cy="201.05" r="0.35" fill="#bbb"/>
<circle cx="135.67" cy="219.88" r="0.35" fill="#bbb"/>
<circle cx="134.62" cy="212.34" r="0.35" fill="#bbb"/>
<circle cx="152.13" cy="194.04" r="0.35" fill="#bbb"/>
<circle cx="126.85" cy="199.15" r="0.35" fill="#bbb"/>
<circle cx="147.95" cy="214.62" r="0.35" fill="#bbb"/>
<circle cx="132.12" cy="203.24" r="0.35" fill="#bbb"/>
<circle cx="130.33" cy="208.36" r="0.35" fill="#bbb"/>
<circle cx="126.28" cy="217.89" r="0.35" fill="#bbb"/>
<circle cx="151.88" cy="228.19" r="0.35" fill="#bbb"/>
<circle cx="147.05" cy="228.39" r="0.35" fill="#bbb"/>
<g filter="url(#bl1)">
<path d="M24.1 202.5 C25.12 200.02 27.88 199.85 30.2 199.2 C32.52 198.55 35.43 198.52 38 198.6 C40.57 198.68 43.6 198.77 45.6 199.7 C47.6 200.63 49.35 202.32 50 204.2 C50.65 206.08 49.77 208.8 49.5 211 C49.23 213.2 49.42 214.48 48.4 217.4 C47.38 220.32 45.7 226.02 43.4 228.5 C41.1 230.98 37.08 232.3 34.6 232.3 C32.12 232.3 30.02 230.38 28.5 228.5 C26.98 226.62 26.23 223.4 25.5 221 C24.77 218.6 24.33 217.18 24.1 214.1 C23.87 211.02 23.08 204.98 24.1 202.5Z" fill="#dadada" stroke="#6a6a6a" stroke-width="0.55"/>
<path d="M25.08 203.06 C26.02 200.82 28.65 200.53 30.8 199.9 C32.95 199.26 35.6 199.22 37.98 199.28 C40.35 199.33 43.15 199.36 45.05 200.21 C46.94 201.07 48.69 202.63 49.35 204.39 C50.01 206.14 49.27 208.7 49 210.76 C48.73 212.82 48.72 214.16 47.72 216.75 C46.73 219.34 45.15 224.15 43.05 226.31 C40.94 228.47 37.37 229.68 35.09 229.72 C32.8 229.75 30.81 228.17 29.35 226.52 C27.89 224.87 27.04 222.03 26.34 219.84 C25.64 217.64 25.36 216.12 25.15 213.33 C24.94 210.53 24.14 205.3 25.08 203.06Z" fill="#cacaca" stroke="#505050" stroke-width="0.4"/>
<path d="M26.06 203.62 C26.93 201.63 29.42 201.2 31.4 200.59 C33.38 199.98 35.77 199.93 37.96 199.95 C40.14 199.98 42.7 199.96 44.49 200.73 C46.28 201.5 48.03 202.94 48.7 204.57 C49.37 206.21 48.78 208.6 48.51 210.53 C48.23 212.45 48.01 213.84 47.04 216.11 C46.08 218.37 44.6 222.28 42.69 224.12 C40.78 225.96 37.66 227.06 35.57 227.13 C33.49 227.2 31.6 225.95 30.2 224.54 C28.8 223.13 27.85 220.67 27.18 218.67 C26.52 216.67 26.39 215.06 26.2 212.56 C26.01 210.05 25.19 205.61 26.06 203.62Z" fill="#b4b4b4" stroke="#505050" stroke-width="0.4"/>
<path d="M26.94 204.12 C27.74 202.35 30.11 201.81 31.94 201.22 C33.77 200.62 35.93 200.57 37.94 200.56 C39.95 200.56 42.3 200.49 44 201.19 C45.69 201.89 47.44 203.22 48.11 204.74 C48.79 206.26 48.34 208.52 48.06 210.31 C47.78 212.11 47.38 213.55 46.43 215.52 C45.49 217.49 44.11 220.6 42.37 222.15 C40.64 223.7 37.91 224.71 36.01 224.81 C34.11 224.91 32.31 223.96 30.97 222.76 C29.62 221.56 28.58 219.44 27.94 217.62 C27.3 215.81 27.31 214.11 27.15 211.86 C26.98 209.61 26.14 205.9 26.94 204.12Z" fill="#949494" stroke="#505050" stroke-width="0.4"/>
<path d="M27.73 204.57 C28.46 202.99 30.72 202.35 32.42 201.77 C34.12 201.19 36.06 201.14 37.92 201.11 C39.78 201.08 41.94 200.97 43.55 201.6 C45.17 202.23 46.91 203.47 47.59 204.89 C48.28 206.31 47.94 208.44 47.66 210.12 C47.38 211.81 46.82 213.29 45.89 215 C44.96 216.72 43.67 219.1 42.09 220.39 C40.51 221.68 38.14 222.61 36.4 222.74 C34.66 222.87 32.95 222.18 31.65 221.17 C30.35 220.17 29.22 218.35 28.61 216.69 C28 215.04 28.13 213.26 27.99 211.24 C27.84 209.22 26.99 206.15 27.73 204.57Z" fill="#6a6a6a" stroke="#505050" stroke-width="0.4"/>
<path d="M28.41 204.96 C29.1 203.56 31.26 202.82 32.84 202.26 C34.42 201.7 36.18 201.63 37.91 201.58 C39.63 201.53 41.63 201.39 43.17 201.96 C44.71 202.53 46.45 203.69 47.14 205.02 C47.83 206.35 47.6 208.37 47.31 209.96 C47.03 211.55 46.33 213.07 45.42 214.55 C44.51 216.04 43.29 217.8 41.84 218.86 C40.4 219.93 38.34 220.78 36.74 220.94 C35.14 221.09 33.5 220.63 32.24 219.79 C30.99 218.95 29.79 217.39 29.2 215.88 C28.61 214.36 28.85 212.52 28.72 210.7 C28.59 208.88 27.73 206.37 28.41 204.96Z" fill="#3c3c3c" stroke="#505050" stroke-width="0.4"/>
<path d="M29 205.3 C29.8 202.85 32.2 202.3 34.6 201.8 C37 201.3 41.28 201.67 43.4 202.3 C45.52 202.93 46.72 204.07 47.3 205.6 C47.88 207.13 47.62 209.6 46.9 211.5 C46.18 213.4 44.98 215.55 43 217 C41.02 218.45 37.2 220.28 35 220.2 C32.8 220.12 30.8 218.98 29.8 216.5 C28.8 214.02 28.2 207.75 29 205.3Z" fill="#141414"/>
<circle cx="37.9" cy="208" r="1.1" fill="#999"/>
<circle cx="35.7" cy="212.4" r="0.9" fill="#888"/>
</g>
<g filter="url(#bl1)">
<path d="M109.1 202.5 C110.12 200.02 112.88 199.85 115.2 199.2 C117.52 198.55 120.43 198.52 123 198.6 C125.57 198.68 128.6 198.77 130.6 199.7 C132.6 200.63 134.35 202.32 135 204.2 C135.65 206.08 134.77 208.8 134.5 211 C134.23 213.2 134.42 214.48 133.4 217.4 C132.38 220.32 130.7 226.02 128.4 228.5 C126.1 230.98 122.08 232.3 119.6 232.3 C117.12 232.3 115.02 230.38 113.5 228.5 C111.98 226.62 111.23 223.4 110.5 221 C109.77 218.6 109.33 217.18 109.1 214.1 C108.87 211.02 108.08 204.98 109.1 202.5Z" fill="#dadada" stroke="#6a6a6a" stroke-width="0.55"/>
<path d="M110.08 203.06 C111.02 200.82 113.65 200.53 115.8 199.9 C117.95 199.26 120.6 199.22 122.98 199.28 C125.35 199.33 128.15 199.36 130.05 200.21 C131.94 201.07 133.69 202.63 134.35 204.39 C135.01 206.14 134.27 208.7 134 210.76 C133.73 212.82 133.72 214.16 132.72 216.75 C131.73 219.34 130.15 224.15 128.05 226.31 C125.94 228.47 122.37 229.68 120.09 229.72 C117.8 229.75 115.81 228.17 114.35 226.52 C112.89 224.87 112.04 222.03 111.34 219.84 C110.64 217.64 110.36 216.12 110.15 213.33 C109.94 210.53 109.14 205.3 110.08 203.06Z" fill="#cacaca" stroke="#505050" stroke-width="0.4"/>
<path d="M111.06 203.62 C111.93 201.63 114.42 201.2 116.4 200.59 C118.38 199.98 120.77 199.93 122.96 199.95 C125.14 199.98 127.7 199.96 129.49 200.73 C131.28 201.5 133.03 202.94 133.7 204.57 C134.37 206.21 133.78 208.6 133.51 210.53 C133.23 212.45 133.01 213.84 132.04 216.11 C131.08 218.37 129.6 222.28 127.69 224.12 C125.78 225.96 122.66 227.06 120.57 227.13 C118.49 227.2 116.6 225.95 115.2 224.54 C113.8 223.13 112.85 220.67 112.18 218.67 C111.52 216.67 111.39 215.06 111.2 212.56 C111.01 210.05 110.19 205.61 111.06 203.62Z" fill="#b4b4b4" stroke="#505050" stroke-width="0.4"/>
<path d="M111.94 204.12 C112.74 202.35 115.11 201.81 116.94 201.22 C118.77 200.62 120.93 200.57 122.94 200.56 C124.95 200.56 127.3 200.49 129 201.19 C130.69 201.89 132.44 203.22 133.11 204.74 C133.79 206.26 133.34 208.52 133.06 210.31 C132.78 212.11 132.38 213.55 131.43 215.52 C130.49 217.49 129.11 220.6 127.37 222.15 C125.64 223.7 122.91 224.71 121.01 224.81 C119.11 224.91 117.31 223.96 115.97 222.76 C114.62 221.56 113.58 219.44 112.94 217.62 C112.3 215.81 112.31 214.11 112.15 211.86 C111.98 209.61 111.14 205.9 111.94 204.12Z" fill="#949494" stroke="#505050" stroke-width="0.4"/>
<path d="M112.73 204.57 C113.46 202.99 115.72 202.35 117.42 201.77 C119.12 201.19 121.06 201.14 122.92 201.11 C124.78 201.08 126.94 200.97 128.55 201.6 C130.17 202.23 131.91 203.47 132.59 204.89 C133.28 206.31 132.94 208.44 132.66 210.12 C132.38 211.81 131.82 213.29 130.89 215 C129.96 216.72 128.67 219.1 127.09 220.39 C125.51 221.68 123.14 222.61 121.4 222.74 C119.66 222.87 117.95 222.18 116.65 221.17 C115.35 220.17 114.22 218.35 113.61 216.69 C113 215.04 113.13 213.26 112.99 211.24 C112.84 209.22 111.99 206.15 112.73 204.57Z" fill="#6a6a6a" stroke="#505050" stroke-width="0.4"/>
<path d="M113.41 204.96 C114.1 203.56 116.26 202.82 117.84 202.26 C119.42 201.7 121.18 201.63 122.91 201.58 C124.63 201.53 126.63 201.39 128.17 201.96 C129.71 202.53 131.45 203.69 132.14 205.02 C132.83 206.35 132.6 208.37 132.31 209.96 C132.03 211.55 131.33 213.07 130.42 214.55 C129.51 216.04 128.29 217.8 126.84 218.86 C125.4 219.93 123.34 220.78 121.74 220.94 C120.14 221.09 118.5 220.63 117.24 219.79 C115.99 218.95 114.79 217.39 114.2 215.88 C113.61 214.36 113.85 212.52 113.72 210.7 C113.59 208.88 112.73 206.37 113.41 204.96Z" fill="#3c3c3c" stroke="#505050" stroke-width="0.4"/>
<path d="M114 205.3 C114.8 202.85 117.2 202.3 119.6 201.8 C122 201.3 126.28 201.67 128.4 202.3 C130.52 202.93 131.72 204.07 132.3 205.6 C132.88 207.13 132.62 209.6 131.9 211.5 C131.18 213.4 129.98 215.55 128 217 C126.02 218.45 122.2 220.28 120 220.2 C117.8 220.12 115.8 218.98 114.8 216.5 C113.8 214.02 113.2 207.75 114 205.3Z" fill="#141414"/>
<circle cx="122.9" cy="208" r="1.1" fill="#999"/>
<circle cx="120.7" cy="212.4" r="0.9" fill="#888"/>
</g>
<path d="M73.37 173.77 C74.11 174.17 74.34 175.17 74.13 176.33 C73.93 177.49 73.2 179.17 72.12 180.73 C71.04 182.29 69.22 184.09 67.67 185.68 C66.12 187.27 64.57 188.95 62.82 190.25 C61.06 191.55 58.72 192.77 57.16 193.49 C55.6 194.22 54.52 194.5 53.45 194.61 C52.39 194.71 51.13 194.75 50.77 194.11 C50.42 193.46 51.03 191.95 51.3 190.74 C51.57 189.52 51.58 188.14 52.39 186.81 C53.21 185.49 54.71 184.22 56.21 182.77 C57.71 181.32 59.68 179.44 61.4 178.11 C63.12 176.78 65.15 175.49 66.52 174.78 C67.9 174.08 68.5 174.07 69.64 173.9 C70.78 173.73 72.62 173.36 73.37 173.77Z" fill="none" stroke="#505050" stroke-width="0.5"/>
<path d="M70.17 176.64 C70.47 177.1 70.35 177.93 70.07 178.86 C69.8 179.8 69.14 181.16 68.52 182.23 C67.89 183.31 67.25 184.28 66.31 185.31 C65.37 186.34 64.04 187.53 62.88 188.4 C61.73 189.27 60.58 189.97 59.4 190.54 C58.21 191.1 56.67 191.68 55.8 191.77 C54.92 191.86 54.42 191.57 54.15 191.07 C53.88 190.57 54.06 189.55 54.2 188.78 C54.34 188.02 54.41 187.47 54.98 186.47 C55.55 185.47 56.55 183.94 57.63 182.8 C58.7 181.67 60.28 180.54 61.42 179.67 C62.56 178.8 63.32 178.18 64.46 177.59 C65.61 177 67.33 176.3 68.28 176.15 C69.23 175.99 69.87 176.19 70.17 176.64Z" fill="none" stroke="#505050" stroke-width="0.5"/>
<path d="M66.33 180.1 C66.6 180.32 66.81 180.56 66.76 181.02 C66.71 181.47 66.4 182.2 66.02 182.85 C65.65 183.5 65.06 184.29 64.49 184.91 C63.92 185.53 63.28 186.09 62.63 186.55 C61.98 187 61.23 187.33 60.58 187.63 C59.94 187.94 59.23 188.36 58.76 188.39 C58.3 188.41 58.08 188.03 57.81 187.77 C57.54 187.52 57.13 187.3 57.15 186.86 C57.18 186.43 57.56 185.75 57.95 185.16 C58.34 184.58 58.88 183.98 59.48 183.35 C60.08 182.72 60.88 181.88 61.54 181.38 C62.2 180.87 62.84 180.61 63.44 180.33 C64.05 180.05 64.68 179.72 65.16 179.68 C65.64 179.64 66.07 179.88 66.33 180.1Z" fill="none" stroke="#505050" stroke-width="0.5"/>
<path d="M63.99 182.21 C64.11 182.36 64.17 182.61 64.15 182.85 C64.13 183.08 64 183.37 63.86 183.63 C63.72 183.9 63.56 184.16 63.31 184.45 C63.06 184.74 62.69 185.12 62.37 185.36 C62.05 185.61 61.68 185.8 61.39 185.91 C61.1 186.03 60.84 186.07 60.61 186.05 C60.39 186.02 60.17 185.9 60.06 185.75 C59.94 185.6 59.92 185.39 59.91 185.15 C59.9 184.92 59.86 184.62 60 184.35 C60.14 184.08 60.49 183.82 60.75 183.53 C61.01 183.23 61.24 182.81 61.53 182.58 C61.82 182.35 62.19 182.26 62.51 182.14 C62.83 182.03 63.2 181.9 63.45 181.92 C63.7 181.93 63.87 182.05 63.99 182.21Z" fill="none" stroke="#505050" stroke-width="0.5"/>
<path d="M162.15 171.21 C162.77 171.89 163.13 173.16 163.2 174.34 C163.28 175.51 163.05 176.95 162.62 178.23 C162.19 179.52 161.48 180.59 160.62 182.03 C159.76 183.47 158.63 185.63 157.47 186.88 C156.31 188.13 155.03 188.71 153.68 189.52 C152.33 190.33 150.57 191.47 149.38 191.75 C148.18 192.03 147.1 191.83 146.53 191.2 C145.95 190.58 146.06 189.19 145.93 188 C145.8 186.81 145.41 185.49 145.75 184.06 C146.09 182.64 147.01 180.96 147.95 179.46 C148.89 177.97 150.14 176.27 151.39 175.11 C152.63 173.94 154.07 173.27 155.42 172.46 C156.77 171.64 158.38 170.43 159.5 170.22 C160.62 170.01 161.53 170.52 162.15 171.21Z" fill="none" stroke="#505050" stroke-width="0.5"/>
<path d="M159.79 174.23 C160.24 174.58 160.5 175.21 160.64 175.96 C160.78 176.71 160.96 177.76 160.65 178.74 C160.33 179.72 159.44 180.82 158.74 181.86 C158.05 182.89 157.24 184.06 156.47 184.95 C155.7 185.83 155.1 186.58 154.14 187.18 C153.19 187.78 151.6 188.4 150.74 188.55 C149.88 188.71 149.34 188.54 148.97 188.08 C148.59 187.63 148.55 186.64 148.49 185.84 C148.42 185.04 148.33 184.27 148.58 183.29 C148.83 182.3 149.38 181 149.99 179.95 C150.6 178.9 151.36 177.9 152.23 176.97 C153.1 176.03 154.28 174.85 155.23 174.33 C156.19 173.8 157.21 173.83 157.97 173.82 C158.73 173.8 159.35 173.87 159.79 174.23Z" fill="none" stroke="#505050" stroke-width="0.5"/>
<path d="M157.55 177.09 C157.92 177.24 158.26 177.45 158.35 177.9 C158.43 178.35 158.24 179.17 158.05 179.81 C157.85 180.45 157.51 181.11 157.15 181.73 C156.79 182.35 156.37 183.07 155.89 183.53 C155.41 183.99 154.77 184.26 154.26 184.51 C153.75 184.76 153.33 184.95 152.84 185.05 C152.35 185.14 151.71 185.22 151.33 185.06 C150.95 184.9 150.63 184.55 150.56 184.08 C150.49 183.61 150.66 182.86 150.9 182.24 C151.14 181.63 151.61 180.98 152.01 180.39 C152.41 179.79 152.87 179.16 153.33 178.67 C153.79 178.18 154.31 177.74 154.79 177.47 C155.26 177.19 155.72 177.09 156.18 177.03 C156.64 176.96 157.19 176.94 157.55 177.09Z" fill="none" stroke="#505050" stroke-width="0.5"/>
<path d="M155.85 179.27 C155.98 179.37 156.11 179.48 156.14 179.7 C156.17 179.91 156.07 180.29 156 180.57 C155.94 180.85 155.9 181.12 155.76 181.38 C155.61 181.64 155.35 181.91 155.13 182.13 C154.9 182.35 154.63 182.57 154.41 182.68 C154.18 182.79 153.95 182.8 153.76 182.79 C153.56 182.78 153.36 182.75 153.22 182.64 C153.08 182.53 152.98 182.32 152.93 182.11 C152.89 181.91 152.89 181.65 152.95 181.41 C153.01 181.17 153.13 180.91 153.3 180.67 C153.47 180.42 153.77 180.14 153.97 179.93 C154.17 179.71 154.27 179.51 154.5 179.38 C154.73 179.25 155.11 179.15 155.34 179.14 C155.56 179.12 155.72 179.18 155.85 179.27Z" fill="none" stroke="#505050" stroke-width="0.5"/>
<line x1="7.3" y1="249.6" x2="7.3" y2="208.8" stroke="#000" stroke-width="1.3"/>
<path d="M7.3 202.3 L4.6 209.3 L10 209.3 Z" fill="#000" stroke="none" stroke-width="1"/>
<line x1="6.65" y1="249" x2="46" y2="249" stroke="#000" stroke-width="1.3"/>
<path d="M52.5 249 L45.5 246.3 L45.5 251.7 Z" fill="#000" stroke="none" stroke-width="1"/>
<text x="3.2" y="237.61" font-size="7.6" text-anchor="middle" font-weight="bold" textLength="17" lengthAdjust="spacingAndGlyphs" transform="rotate(-90 3.2 235)">F4/80</text>
<text x="16.4" y="258.49" font-size="8.4" text-anchor="middle" font-weight="bold" textLength="21.2" lengthAdjust="spacingAndGlyphs">CD11b</text>
<text x="48.55" y="266.28" font-size="7.2" text-anchor="middle" stroke="#000" stroke-width="0.32" textLength="85.5" lengthAdjust="spacingAndGlyphs">(gated on viable islet cells)</text>
<text x="195.6" y="155.82" font-size="14" text-anchor="start" font-weight="bold" textLength="10.6" lengthAdjust="spacingAndGlyphs">D</text>
<text x="252.75" y="162.16" font-size="8.6" text-anchor="middle" font-weight="bold" textLength="12.5" lengthAdjust="spacingAndGlyphs">WT</text>
<text x="335.05" y="162.76" font-size="8.6" text-anchor="middle" font-weight="bold" textLength="25.5" lengthAdjust="spacingAndGlyphs">hIAPP</text>
<text x="352.6" y="160.02" font-size="5.3" text-anchor="middle" font-weight="bold" textLength="9.2" lengthAdjust="spacingAndGlyphs">Tg/o</text>
<rect x="215.4" y="164.4" width="72.8" height="72.8" fill="none" stroke="#9a9aa6" stroke-width="1"/>
<line x1="244.4" y1="164.4" x2="244.4" y2="237.2" stroke="#a8a8b0" stroke-width="0.8"/>
<line x1="215.4" y1="199.6" x2="288.2" y2="199.6" stroke="#a8a8b0" stroke-width="0.8"/>
<line x1="214" y1="167.4" x2="215.4" y2="167.4" stroke="#999" stroke-width="0.45"/>
<line x1="214" y1="171" x2="215.4" y2="171" stroke="#999" stroke-width="0.45"/>
<line x1="214" y1="174.6" x2="215.4" y2="174.6" stroke="#999" stroke-width="0.45"/>
<line x1="214" y1="178.2" x2="215.4" y2="178.2" stroke="#999" stroke-width="0.45"/>
<line x1="214" y1="181.8" x2="215.4" y2="181.8" stroke="#999" stroke-width="0.45"/>
<line x1="214" y1="185.4" x2="215.4" y2="185.4" stroke="#999" stroke-width="0.45"/>
<line x1="214" y1="189" x2="215.4" y2="189" stroke="#999" stroke-width="0.45"/>
<line x1="214" y1="192.6" x2="215.4" y2="192.6" stroke="#999" stroke-width="0.45"/>
<line x1="214" y1="196.2" x2="215.4" y2="196.2" stroke="#999" stroke-width="0.45"/>
<line x1="214" y1="199.8" x2="215.4" y2="199.8" stroke="#999" stroke-width="0.45"/>
<line x1="214" y1="203.4" x2="215.4" y2="203.4" stroke="#999" stroke-width="0.45"/>
<line x1="214" y1="207" x2="215.4" y2="207" stroke="#999" stroke-width="0.45"/>
<line x1="214" y1="210.6" x2="215.4" y2="210.6" stroke="#999" stroke-width="0.45"/>
<line x1="214" y1="214.2" x2="215.4" y2="214.2" stroke="#999" stroke-width="0.45"/>
<line x1="214" y1="217.8" x2="215.4" y2="217.8" stroke="#999" stroke-width="0.45"/>
<line x1="214" y1="221.4" x2="215.4" y2="221.4" stroke="#999" stroke-width="0.45"/>
<line x1="214" y1="225" x2="215.4" y2="225" stroke="#999" stroke-width="0.45"/>
<line x1="214" y1="228.6" x2="215.4" y2="228.6" stroke="#999" stroke-width="0.45"/>
<line x1="214" y1="232.2" x2="215.4" y2="232.2" stroke="#999" stroke-width="0.45"/>
<line x1="214" y1="235.8" x2="215.4" y2="235.8" stroke="#999" stroke-width="0.45"/>
<line x1="218.4" y1="237.2" x2="218.4" y2="238.6" stroke="#999" stroke-width="0.45"/>
<line x1="222" y1="237.2" x2="222" y2="238.6" stroke="#999" stroke-width="0.45"/>
<line x1="225.6" y1="237.2" x2="225.6" y2="238.6" stroke="#999" stroke-width="0.45"/>
<line x1="229.2" y1="237.2" x2="229.2" y2="238.6" stroke="#999" stroke-width="0.45"/>
<line x1="232.8" y1="237.2" x2="232.8" y2="238.6" stroke="#999" stroke-width="0.45"/>
<line x1="236.4" y1="237.2" x2="236.4" y2="238.6" stroke="#999" stroke-width="0.45"/>
<line x1="240" y1="237.2" x2="240" y2="238.6" stroke="#999" stroke-width="0.45"/>
<line x1="243.6" y1="237.2" x2="243.6" y2="238.6" stroke="#999" stroke-width="0.45"/>
<line x1="247.2" y1="237.2" x2="247.2" y2="238.6" stroke="#999" stroke-width="0.45"/>
<line x1="250.8" y1="237.2" x2="250.8" y2="238.6" stroke="#999" stroke-width="0.45"/>
<line x1="254.4" y1="237.2" x2="254.4" y2="238.6" stroke="#999" stroke-width="0.45"/>
<line x1="258" y1="237.2" x2="258" y2="238.6" stroke="#999" stroke-width="0.45"/>
<line x1="261.6" y1="237.2" x2="261.6" y2="238.6" stroke="#999" stroke-width="0.45"/>
<line x1="265.2" y1="237.2" x2="265.2" y2="238.6" stroke="#999" stroke-width="0.45"/>
<line x1="268.8" y1="237.2" x2="268.8" y2="238.6" stroke="#999" stroke-width="0.45"/>
<line x1="272.4" y1="237.2" x2="272.4" y2="238.6" stroke="#999" stroke-width="0.45"/>
<line x1="276" y1="237.2" x2="276" y2="238.6" stroke="#999" stroke-width="0.45"/>
<line x1="279.6" y1="237.2" x2="279.6" y2="238.6" stroke="#999" stroke-width="0.45"/>
<line x1="283.2" y1="237.2" x2="283.2" y2="238.6" stroke="#999" stroke-width="0.45"/>
<line x1="286.8" y1="237.2" x2="286.8" y2="238.6" stroke="#999" stroke-width="0.45"/>
<line x1="212.9" y1="169.2" x2="215.4" y2="169.2" stroke="#333" stroke-width="0.8"/>
<text x="212.8" y="170.8" font-size="3.8" text-anchor="end" font-weight="bold">10<tspan font-size="2.6" dy="-1.6">5</tspan></text>
<line x1="212.9" y1="184.5" x2="215.4" y2="184.5" stroke="#333" stroke-width="0.8"/>
<text x="212.8" y="186.1" font-size="3.8" text-anchor="end" font-weight="bold">10<tspan font-size="2.6" dy="-1.6">4</tspan></text>
<line x1="212.9" y1="199.8" x2="215.4" y2="199.8" stroke="#333" stroke-width="0.8"/>
<text x="212.8" y="201.4" font-size="3.8" text-anchor="end" font-weight="bold">10<tspan font-size="2.6" dy="-1.6">3</tspan></text>
<line x1="212.9" y1="214.7" x2="215.4" y2="214.7" stroke="#333" stroke-width="0.8"/>
<text x="212.8" y="216.3" font-size="3.8" text-anchor="end" font-weight="bold">10<tspan font-size="2.6" dy="-1.6">2</tspan></text>
<line x1="212.9" y1="226.3" x2="215.4" y2="226.3" stroke="#333" stroke-width="0.8"/>
<text x="212.8" y="227.9" font-size="3.8" text-anchor="end" font-weight="bold">0</text>
<line x1="226.2" y1="237.2" x2="226.2" y2="239.7" stroke="#333" stroke-width="0.8"/>
<text x="226.2" y="243.8" font-size="3.8" text-anchor="middle" font-weight="bold">0</text>
<line x1="237.4" y1="237.2" x2="237.4" y2="239.7" stroke="#333" stroke-width="0.8"/>
<text x="237.4" y="243.8" font-size="3.8" text-anchor="middle" font-weight="bold">10<tspan font-size="2.6" dy="-1.6">2</tspan></text>
<line x1="252.3" y1="237.2" x2="252.3" y2="239.7" stroke="#333" stroke-width="0.8"/>
<text x="252.3" y="243.8" font-size="3.8" text-anchor="middle" font-weight="bold">10<tspan font-size="2.6" dy="-1.6">3</tspan></text>
<line x1="267.1" y1="237.2" x2="267.1" y2="239.7" stroke="#333" stroke-width="0.8"/>
<text x="267.1" y="243.8" font-size="3.8" text-anchor="middle" font-weight="bold">10<tspan font-size="2.6" dy="-1.6">4</tspan></text>
<line x1="281.2" y1="237.2" x2="281.2" y2="239.7" stroke="#333" stroke-width="0.8"/>
<text x="281.2" y="243.8" font-size="3.8" text-anchor="middle" font-weight="bold">10<tspan font-size="2.6" dy="-1.6">5</tspan></text>
<text x="217" y="168.3" font-size="3.2" text-anchor="start" fill="#3a3a7a">0.096</text>
<text x="286.8" y="168.3" font-size="3.2" text-anchor="end" fill="#3a3a7a">98.9</text>
<text x="217" y="235.7" font-size="3.2" text-anchor="start" fill="#3a3a7a">0.05</text>
<text x="286.8" y="235.7" font-size="3.2" text-anchor="end" fill="#3a3a7a">1.00</text>
<rect x="299.2" y="164.4" width="72.8" height="72.8" fill="none" stroke="#9a9aa6" stroke-width="1"/>
<line x1="328.2" y1="164.4" x2="328.2" y2="237.2" stroke="#a8a8b0" stroke-width="0.8"/>
<line x1="299.2" y1="199.6" x2="372" y2="199.6" stroke="#a8a8b0" stroke-width="0.8"/>
<line x1="297.8" y1="167.4" x2="299.2" y2="167.4" stroke="#999" stroke-width="0.45"/>
<line x1="297.8" y1="171" x2="299.2" y2="171" stroke="#999" stroke-width="0.45"/>
<line x1="297.8" y1="174.6" x2="299.2" y2="174.6" stroke="#999" stroke-width="0.45"/>
<line x1="297.8" y1="178.2" x2="299.2" y2="178.2" stroke="#999" stroke-width="0.45"/>
<line x1="297.8" y1="181.8" x2="299.2" y2="181.8" stroke="#999" stroke-width="0.45"/>
<line x1="297.8" y1="185.4" x2="299.2" y2="185.4" stroke="#999" stroke-width="0.45"/>
<line x1="297.8" y1="189" x2="299.2" y2="189" stroke="#999" stroke-width="0.45"/>
<line x1="297.8" y1="192.6" x2="299.2" y2="192.6" stroke="#999" stroke-width="0.45"/>
<line x1="297.8" y1="196.2" x2="299.2" y2="196.2" stroke="#999" stroke-width="0.45"/>
<line x1="297.8" y1="199.8" x2="299.2" y2="199.8" stroke="#999" stroke-width="0.45"/>
<line x1="297.8" y1="203.4" x2="299.2" y2="203.4" stroke="#999" stroke-width="0.45"/>
<line x1="297.8" y1="207" x2="299.2" y2="207" stroke="#999" stroke-width="0.45"/>
<line x1="297.8" y1="210.6" x2="299.2" y2="210.6" stroke="#999" stroke-width="0.45"/>
<line x1="297.8" y1="214.2" x2="299.2" y2="214.2" stroke="#999" stroke-width="0.45"/>
<line x1="297.8" y1="217.8" x2="299.2" y2="217.8" stroke="#999" stroke-width="0.45"/>
<line x1="297.8" y1="221.4" x2="299.2" y2="221.4" stroke="#999" stroke-width="0.45"/>
<line x1="297.8" y1="225" x2="299.2" y2="225" stroke="#999" stroke-width="0.45"/>
<line x1="297.8" y1="228.6" x2="299.2" y2="228.6" stroke="#999" stroke-width="0.45"/>
<line x1="297.8" y1="232.2" x2="299.2" y2="232.2" stroke="#999" stroke-width="0.45"/>
<line x1="297.8" y1="235.8" x2="299.2" y2="235.8" stroke="#999" stroke-width="0.45"/>
<line x1="302.2" y1="237.2" x2="302.2" y2="238.6" stroke="#999" stroke-width="0.45"/>
<line x1="305.8" y1="237.2" x2="305.8" y2="238.6" stroke="#999" stroke-width="0.45"/>
<line x1="309.4" y1="237.2" x2="309.4" y2="238.6" stroke="#999" stroke-width="0.45"/>
<line x1="313" y1="237.2" x2="313" y2="238.6" stroke="#999" stroke-width="0.45"/>
<line x1="316.6" y1="237.2" x2="316.6" y2="238.6" stroke="#999" stroke-width="0.45"/>
<line x1="320.2" y1="237.2" x2="320.2" y2="238.6" stroke="#999" stroke-width="0.45"/>
<line x1="323.8" y1="237.2" x2="323.8" y2="238.6" stroke="#999" stroke-width="0.45"/>
<line x1="327.4" y1="237.2" x2="327.4" y2="238.6" stroke="#999" stroke-width="0.45"/>
<line x1="331" y1="237.2" x2="331" y2="238.6" stroke="#999" stroke-width="0.45"/>
<line x1="334.6" y1="237.2" x2="334.6" y2="238.6" stroke="#999" stroke-width="0.45"/>
<line x1="338.2" y1="237.2" x2="338.2" y2="238.6" stroke="#999" stroke-width="0.45"/>
<line x1="341.8" y1="237.2" x2="341.8" y2="238.6" stroke="#999" stroke-width="0.45"/>
<line x1="345.4" y1="237.2" x2="345.4" y2="238.6" stroke="#999" stroke-width="0.45"/>
<line x1="349" y1="237.2" x2="349" y2="238.6" stroke="#999" stroke-width="0.45"/>
<line x1="352.6" y1="237.2" x2="352.6" y2="238.6" stroke="#999" stroke-width="0.45"/>
<line x1="356.2" y1="237.2" x2="356.2" y2="238.6" stroke="#999" stroke-width="0.45"/>
<line x1="359.8" y1="237.2" x2="359.8" y2="238.6" stroke="#999" stroke-width="0.45"/>
<line x1="363.4" y1="237.2" x2="363.4" y2="238.6" stroke="#999" stroke-width="0.45"/>
<line x1="367" y1="237.2" x2="367" y2="238.6" stroke="#999" stroke-width="0.45"/>
<line x1="370.6" y1="237.2" x2="370.6" y2="238.6" stroke="#999" stroke-width="0.45"/>
<line x1="296.7" y1="169.2" x2="299.2" y2="169.2" stroke="#333" stroke-width="0.8"/>
<text x="296.6" y="170.8" font-size="3.8" text-anchor="end" font-weight="bold">10<tspan font-size="2.6" dy="-1.6">5</tspan></text>
<line x1="296.7" y1="184.5" x2="299.2" y2="184.5" stroke="#333" stroke-width="0.8"/>
<text x="296.6" y="186.1" font-size="3.8" text-anchor="end" font-weight="bold">10<tspan font-size="2.6" dy="-1.6">4</tspan></text>
<line x1="296.7" y1="199.8" x2="299.2" y2="199.8" stroke="#333" stroke-width="0.8"/>
<text x="296.6" y="201.4" font-size="3.8" text-anchor="end" font-weight="bold">10<tspan font-size="2.6" dy="-1.6">3</tspan></text>
<line x1="296.7" y1="214.7" x2="299.2" y2="214.7" stroke="#333" stroke-width="0.8"/>
<text x="296.6" y="216.3" font-size="3.8" text-anchor="end" font-weight="bold">10<tspan font-size="2.6" dy="-1.6">2</tspan></text>
<line x1="296.7" y1="226.3" x2="299.2" y2="226.3" stroke="#333" stroke-width="0.8"/>
<text x="296.6" y="227.9" font-size="3.8" text-anchor="end" font-weight="bold">0</text>
<line x1="310" y1="237.2" x2="310" y2="239.7" stroke="#333" stroke-width="0.8"/>
<text x="310" y="243.8" font-size="3.8" text-anchor="middle" font-weight="bold">0</text>
<line x1="321.2" y1="237.2" x2="321.2" y2="239.7" stroke="#333" stroke-width="0.8"/>
<text x="321.2" y="243.8" font-size="3.8" text-anchor="middle" font-weight="bold">10<tspan font-size="2.6" dy="-1.6">2</tspan></text>
<line x1="336.1" y1="237.2" x2="336.1" y2="239.7" stroke="#333" stroke-width="0.8"/>
<text x="336.1" y="243.8" font-size="3.8" text-anchor="middle" font-weight="bold">10<tspan font-size="2.6" dy="-1.6">3</tspan></text>
<line x1="350.9" y1="237.2" x2="350.9" y2="239.7" stroke="#333" stroke-width="0.8"/>
<text x="350.9" y="243.8" font-size="3.8" text-anchor="middle" font-weight="bold">10<tspan font-size="2.6" dy="-1.6">4</tspan></text>
<line x1="365" y1="237.2" x2="365" y2="239.7" stroke="#333" stroke-width="0.8"/>
<text x="365" y="243.8" font-size="3.8" text-anchor="middle" font-weight="bold">10<tspan font-size="2.6" dy="-1.6">5</tspan></text>
<text x="300.8" y="168.3" font-size="3.2" text-anchor="start" fill="#3a3a7a">0</text>
<text x="370.6" y="168.3" font-size="3.2" text-anchor="end" fill="#3a3a7a">98.6</text>
<text x="300.8" y="235.7" font-size="3.2" text-anchor="start" fill="#3a3a7a">0.079</text>
<text x="370.6" y="235.7" font-size="3.2" text-anchor="end" fill="#3a3a7a">1.32</text>
<path d="M244.5 187.6 C244.7 186.65 245.08 186.17 246.1 184.4 C247.12 182.63 248.9 179.18 250.6 177 C252.3 174.82 254.13 172.78 256.3 171.3 C258.47 169.82 261.43 168.57 263.6 168.1 C265.77 167.63 267.67 167.68 269.3 168.5 C270.93 169.32 272.58 171.58 273.4 173 C274.22 174.42 274.6 175.38 274.2 177 C273.8 178.62 272.35 180.8 271 182.7 C269.65 184.6 267.73 186.77 266.1 188.4 C264.47 190.03 262.97 191.62 261.2 192.5 C259.43 193.38 257.4 193.77 255.5 193.7 C253.6 193.63 251.57 192.7 249.8 192.1 C248.03 191.5 245.78 190.85 244.9 190.1 C244.02 189.35 244.3 188.55 244.5 187.6Z" fill="#f7f7f7" stroke="#6a6a6a" stroke-width="0.6"/>
<g filter="url(#bl2)">
<path d="M246.6 186.61 C246.77 185.79 247.1 185.37 247.98 183.85 C248.85 182.33 250.38 179.37 251.85 177.49 C253.31 175.61 254.88 173.86 256.75 172.59 C258.61 171.31 261.16 170.24 263.03 169.84 C264.89 169.43 266.52 169.48 267.93 170.18 C269.33 170.88 270.75 172.83 271.45 174.05 C272.16 175.27 272.49 176.1 272.14 177.49 C271.8 178.88 270.55 180.76 269.39 182.39 C268.23 184.03 266.58 185.89 265.18 187.29 C263.77 188.7 262.48 190.06 260.96 190.82 C259.44 191.58 257.69 191.91 256.06 191.85 C254.43 191.79 252.68 190.99 251.16 190.48 C249.64 189.96 247.7 189.4 246.94 188.76 C246.18 188.11 246.43 187.42 246.6 186.61Z" fill="#eeeeee" stroke="#888" stroke-width="0.45"/>
<path d="M268.43 170.13 C269.27 170.72 269.95 171.59 270.07 172.81 C270.2 174.03 269.75 175.86 269.16 177.43 C268.57 178.99 267.59 180.68 266.52 182.2 C265.44 183.71 264.1 185.37 262.71 186.5 C261.33 187.64 259.62 188.42 258.19 189.01 C256.76 189.59 255.42 189.97 254.15 190.01 C252.88 190.05 251.46 189.86 250.6 189.25 C249.74 188.64 249.11 187.58 249 186.35 C248.89 185.11 249.32 183.36 249.96 181.83 C250.61 180.31 251.75 178.66 252.88 177.18 C254.02 175.71 255.4 174.16 256.76 172.99 C258.13 171.82 259.69 170.78 261.07 170.16 C262.46 169.55 263.85 169.3 265.07 169.29 C266.3 169.28 267.6 169.54 268.43 170.13Z" fill="#d4d4d4" stroke="#777" stroke-width="0.4"/>
<path d="M267.23 171.39 C267.82 171.91 268.28 172.66 268.27 173.73 C268.27 174.8 267.73 176.42 267.19 177.79 C266.65 179.15 266.01 180.61 265.05 181.93 C264.09 183.25 262.68 184.62 261.41 185.7 C260.13 186.79 258.65 187.85 257.4 188.43 C256.16 189.01 254.93 189.21 253.92 189.2 C252.92 189.2 251.96 188.96 251.37 188.4 C250.78 187.83 250.43 186.84 250.38 185.8 C250.34 184.76 250.59 183.43 251.1 182.17 C251.62 180.9 252.45 179.49 253.47 178.2 C254.49 176.91 255.99 175.53 257.2 174.45 C258.41 173.37 259.48 172.36 260.73 171.72 C261.99 171.08 263.65 170.67 264.74 170.62 C265.82 170.56 266.64 170.87 267.23 171.39Z" fill="#a9a9a9" stroke="#666" stroke-width="0.4"/>
<path d="M265.79 172.62 C266.29 173 266.8 173.52 266.76 174.34 C266.72 175.17 266.1 176.46 265.54 177.57 C264.98 178.69 264.28 179.9 263.41 181.01 C262.53 182.13 261.37 183.33 260.3 184.29 C259.23 185.24 258 186.17 256.98 186.74 C255.96 187.31 255.05 187.57 254.18 187.72 C253.32 187.86 252.22 188.05 251.81 187.61 C251.4 187.17 251.65 186 251.73 185.08 C251.82 184.16 251.89 183.12 252.33 182.06 C252.76 181.01 253.45 179.86 254.32 178.73 C255.19 177.61 256.41 176.32 257.53 175.32 C258.65 174.33 260.03 173.28 261.06 172.73 C262.09 172.19 262.95 172.08 263.74 172.06 C264.52 172.04 265.28 172.24 265.79 172.62Z" fill="#7a7a7a" stroke="#444" stroke-width="0.4"/>
<path d="M264.8 173.58 C265.22 173.88 265.62 174.37 265.44 175.18 C265.27 175.99 264.47 177.28 263.75 178.41 C263.03 179.55 262.12 180.89 261.13 181.98 C260.14 183.06 258.89 184.16 257.83 184.93 C256.77 185.7 255.57 186.38 254.77 186.59 C253.96 186.81 253.41 186.53 253 186.23 C252.58 185.94 252.13 185.64 252.29 184.82 C252.45 184 253.2 182.44 253.95 181.29 C254.7 180.14 255.76 179.01 256.78 177.93 C257.8 176.84 259.03 175.55 260.05 174.79 C261.08 174.03 262.13 173.55 262.92 173.35 C263.71 173.15 264.38 173.27 264.8 173.58Z" fill="#3a3a3a"/>
<path d="M264.32 173.31 C264.56 173.54 264.68 174 264.61 174.47 C264.54 174.94 264.26 175.6 263.9 176.13 C263.54 176.67 262.97 177.28 262.47 177.67 C261.96 178.06 261.32 178.39 260.85 178.49 C260.39 178.6 259.92 178.51 259.68 178.29 C259.44 178.06 259.32 177.6 259.39 177.13 C259.46 176.66 259.74 176 260.1 175.47 C260.46 174.93 261.03 174.32 261.53 173.93 C262.04 173.54 262.68 173.21 263.15 173.11 C263.61 173 264.08 173.09 264.32 173.31Z" fill="#111"/>
<path d="M259.68 180.86 C259.91 181.07 260.02 181.51 259.95 181.95 C259.89 182.39 259.62 183.01 259.29 183.51 C258.95 184.02 258.42 184.59 257.94 184.96 C257.46 185.33 256.86 185.64 256.42 185.73 C255.99 185.83 255.55 185.75 255.32 185.54 C255.09 185.33 254.98 184.89 255.05 184.45 C255.11 184.01 255.38 183.39 255.71 182.89 C256.05 182.38 256.58 181.81 257.06 181.44 C257.54 181.07 258.14 180.76 258.58 180.67 C259.01 180.57 259.45 180.65 259.68 180.86Z" fill="#111"/>
<path d="M262.39 176.82 C262.51 176.93 262.45 177.27 262.24 177.67 C262.03 178.08 261.6 178.71 261.16 179.26 C260.71 179.81 260.07 180.49 259.56 180.98 C259.04 181.46 258.44 181.94 258.05 182.17 C257.66 182.4 257.32 182.49 257.21 182.38 C257.09 182.27 257.15 181.93 257.36 181.53 C257.57 181.12 258 180.49 258.44 179.94 C258.89 179.39 259.53 178.71 260.04 178.22 C260.56 177.74 261.16 177.26 261.55 177.03 C261.94 176.8 262.28 176.71 262.39 176.82Z" fill="#bbb"/>
</g>
<path d="M343.9 166.7 C345.8 165.33 348 165.8 351.2 165.8 C354.4 165.8 360.67 165.18 363.1 166.7 C365.53 168.22 365.65 171.85 365.8 174.9 C365.95 177.95 365.07 182.27 364 185 C362.93 187.73 360.92 189.63 359.4 191.3 C357.88 192.97 356.72 194.23 354.9 195 C353.08 195.77 350.78 196.2 348.5 195.9 C346.22 195.6 342.95 194.57 341.2 193.2 C339.45 191.83 338.6 189.68 338 187.7 C337.4 185.72 337.3 183.58 337.6 181.3 C337.9 179.02 338.75 176.43 339.8 174 C340.85 171.57 342 168.07 343.9 166.7Z" fill="#fafafa" stroke="#7a7a7a" stroke-width="0.55"/>
<path d="M345.17 168.42 C346.81 167.25 348.7 167.65 351.45 167.65 C354.2 167.65 359.59 167.12 361.69 168.42 C363.78 169.73 363.88 172.85 364.01 175.47 C364.14 178.1 363.38 181.81 362.46 184.16 C361.54 186.51 359.81 188.14 358.5 189.58 C357.2 191.01 356.2 192.1 354.63 192.76 C353.07 193.42 351.09 193.79 349.13 193.53 C347.17 193.28 344.36 192.39 342.85 191.21 C341.35 190.04 340.62 188.19 340.1 186.48 C339.58 184.78 339.5 182.94 339.76 180.98 C340.01 179.01 340.75 176.79 341.65 174.7 C342.55 172.61 343.54 169.6 345.17 168.42Z" fill="none" stroke="#8a8a8a" stroke-width="0.5"/>
<path d="M346.79 169.38 C348.19 168.37 349.82 168.71 352.19 168.71 C354.56 168.71 359.19 168.26 360.99 169.38 C362.79 170.5 362.88 173.19 362.99 175.45 C363.1 177.7 362.45 180.9 361.66 182.92 C360.87 184.94 359.38 186.35 358.26 187.58 C357.13 188.82 356.27 189.75 354.93 190.32 C353.58 190.89 351.88 191.21 350.19 190.99 C348.5 190.76 346.08 190 344.79 188.99 C343.49 187.98 342.86 186.39 342.42 184.92 C341.98 183.45 341.9 181.87 342.12 180.18 C342.35 178.49 342.98 176.58 343.75 174.78 C344.53 172.98 345.38 170.39 346.79 169.38Z" fill="none" stroke="#888" stroke-width="0.45"/>
<path d="M348.5 170.23 C349.68 169.39 351.04 169.68 353.02 169.68 C355.01 169.68 358.89 169.29 360.4 170.23 C361.91 171.17 361.98 173.43 362.08 175.32 C362.17 177.21 361.62 179.89 360.96 181.58 C360.3 183.27 359.05 184.45 358.11 185.49 C357.17 186.52 356.44 187.3 355.32 187.78 C354.19 188.26 352.77 188.52 351.35 188.34 C349.93 188.15 347.91 187.51 346.82 186.66 C345.74 185.82 345.21 184.48 344.84 183.25 C344.47 182.02 344.41 180.7 344.59 179.29 C344.78 177.87 345.31 176.27 345.96 174.76 C346.61 173.25 347.32 171.08 348.5 170.23Z" fill="none" stroke="#888" stroke-width="0.45"/>
<g filter="url(#bl2)">
<path d="M359.21 166.45 C360.27 167.12 361.44 168.02 362.05 169.16 C362.66 170.29 362.83 171.62 362.88 173.25 C362.94 174.88 362.97 177.24 362.4 178.93 C361.82 180.63 360.57 181.99 359.43 183.43 C358.3 184.87 356.93 186.6 355.58 187.57 C354.23 188.54 352.66 189.09 351.32 189.23 C349.98 189.36 348.65 189.02 347.55 188.39 C346.45 187.76 345.36 186.72 344.73 185.46 C344.09 184.21 343.69 182.45 343.75 180.86 C343.81 179.28 344.49 177.63 345.09 175.93 C345.69 174.24 346.31 172.12 347.37 170.71 C348.43 169.29 350.04 168.37 351.43 167.45 C352.82 166.52 354.4 165.31 355.69 165.15 C356.99 164.98 358.16 165.78 359.21 166.45Z" fill="#d2d2d2" stroke="#888" stroke-width="0.4"/>
<path d="M360.1 167.83 C360.87 168.36 361.61 168.92 361.98 169.89 C362.36 170.87 362.38 172.42 362.35 173.69 C362.33 174.96 362.42 176.25 361.85 177.5 C361.28 178.75 359.94 180.11 358.94 181.18 C357.94 182.25 356.89 183.34 355.85 183.92 C354.81 184.51 353.69 184.67 352.7 184.7 C351.71 184.74 350.78 184.52 349.91 184.14 C349.05 183.76 347.92 183.3 347.51 182.43 C347.1 181.57 347.29 180.27 347.43 178.93 C347.58 177.6 347.86 175.82 348.38 174.42 C348.91 173.02 349.57 171.61 350.58 170.53 C351.58 169.44 353.28 168.53 354.42 167.89 C355.56 167.26 356.45 166.73 357.4 166.72 C358.34 166.71 359.34 167.3 360.1 167.83Z" fill="#b2b2b2" stroke="#777" stroke-width="0.4"/>
<path d="M362.96 170.68 C363.36 171.26 363.76 172.1 363.69 172.95 C363.63 173.8 363.19 174.95 362.55 175.78 C361.92 176.6 360.86 177.28 359.89 177.92 C358.93 178.55 357.79 179.32 356.75 179.6 C355.71 179.87 354.39 179.81 353.63 179.57 C352.87 179.34 352.54 178.8 352.21 178.21 C351.87 177.61 351.47 176.82 351.63 176.01 C351.78 175.21 352.58 174.24 353.13 173.37 C353.67 172.5 354.02 171.38 354.89 170.77 C355.76 170.17 357.3 169.98 358.36 169.76 C359.42 169.55 360.5 169.33 361.27 169.48 C362.03 169.64 362.55 170.1 362.96 170.68Z" fill="#777"/>
</g>
<g filter="url(#bl3)">
<circle cx="357.6" cy="172.5" r="2.4" fill="#2a2a2a"/>
<circle cx="361.3" cy="176.2" r="2.1" fill="#333"/>
<circle cx="352.8" cy="172.2" r="1.6" fill="#666"/>
<circle cx="356.2" cy="176" r="1.3" fill="#eee"/>
</g>
<ellipse cx="356.9" cy="197.6" rx="3.4" ry="2.4" fill="none" stroke="#555" stroke-width="0.6"/>
<line x1="203.7" y1="247.6" x2="203.7" y2="207.3" stroke="#000" stroke-width="1.3"/>
<path d="M203.7 200.8 L201 207.8 L206.4 207.8 Z" fill="#000" stroke="none" stroke-width="1"/>
<line x1="203.05" y1="247" x2="243.2" y2="247" stroke="#000" stroke-width="1.3"/>
<path d="M249.7 247 L242.7 244.3 L242.7 249.7 Z" fill="#000" stroke="none" stroke-width="1"/>
<text x="199.8" y="235.81" font-size="7.6" text-anchor="middle" font-weight="bold" textLength="18.3" lengthAdjust="spacingAndGlyphs" transform="rotate(-90 199.8 233.2)">F4/80</text>
<text x="213.7" y="257.09" font-size="8.4" text-anchor="middle" font-weight="bold" textLength="21.8" lengthAdjust="spacingAndGlyphs">CD11c</text>
<text x="202.9" y="265.08" font-size="7.2" text-anchor="start" stroke="#000" stroke-width="0.32" textLength="62" lengthAdjust="spacingAndGlyphs">(gated&#160;&#160;on CD11b<tspan font-size="4.5" dy="-2.6">+</tspan><tspan dy="2.6">)</tspan></text>
<text x="381.7" y="155.25" font-size="13.8" text-anchor="start" font-weight="bold" textLength="9" lengthAdjust="spacingAndGlyphs">E</text>
<rect x="409.2" y="151.2" width="17.7" height="11.5" fill="#c4c4c4"/>
<text x="434.05" y="160.17" font-size="9.8" text-anchor="middle" font-weight="bold" textLength="13.1" lengthAdjust="spacingAndGlyphs">WT</text>
<rect x="445.95" y="153.85" width="14.5" height="7.3" fill="#fff" stroke="#000" stroke-width="1.5"/>
<text x="474.45" y="160.3" font-size="9.6" text-anchor="middle" font-weight="bold" textLength="24.3" lengthAdjust="spacingAndGlyphs">hIAPP</text>
<text x="492.35" y="157.2" font-size="5.8" text-anchor="middle" font-weight="bold" textLength="10.7" lengthAdjust="spacingAndGlyphs">Tg/o</text>
<text x="417.5" y="176.4" font-size="9" text-anchor="middle" font-weight="bold" textLength="26.6" lengthAdjust="spacingAndGlyphs">CD11b</text>
<text x="456.55" y="176.4" font-size="9" text-anchor="middle" font-weight="bold" textLength="25.5" lengthAdjust="spacingAndGlyphs">CD11c</text>
<text x="497.15" y="176.4" font-size="9" text-anchor="middle" font-weight="bold" textLength="19.3" lengthAdjust="spacingAndGlyphs">Ly6C</text>
<path d="M408.4 241.2 L408.4 241 L409.2 239.72 L410 237.2 L410.9 227.56 L411.8 217 L412.63 212.39 L413.47 207.63 L414.3 203.6 L415.13 199.69 L415.97 195.56 L416.8 191.8 L417.65 189.36 L418.5 185.9 L419.8 190 L421 208.6 L421.83 215.55 L422.67 223.16 L423.5 230.5 L424.35 232.95 L425.2 235.83 L426.05 237.41 L426.9 239.7 L427.73 240.13 L428.57 240.57 L429.4 241 L429.4 241.2 Z" fill="#c9c9c9" stroke="#b8b8b8" stroke-width="0.4"/>
<path d="M404 241 L404.9 240.9 L405.8 240.8 L406.7 240.7 L407.6 240.6 L408.43 239.95 L409.25 239.09 L410.07 238.23 L410.9 238 L411.75 237.56 L412.6 236.24 L413.45 236.17 L414.3 235.5 L415.13 231.41 L415.97 227.1 L416.8 223.7 L417.63 218.68 L418.47 213.08 L419.3 208.6 L420.15 201.82 L421 195.2 L422.2 186.8 L423.5 181.7 L424.4 188.4 L425.2 197.98 L426 208.6 L426.85 219.06 L427.7 230.5 L428.8 235.41 L429.9 240.5 L430.77 240.57 L431.64 240.64 L432.51 240.71 L433.39 240.79 L434.26 240.86 L435.13 240.93 L436 241" fill="none" stroke="#1e1e1e" stroke-width="0.7" stroke-linejoin="round"/>
<path d="M445.2 241.2 L445.2 241 L446.05 238.99 L446.9 236.21 L447.75 232.98 L448.6 230.5 L449.45 224.59 L450.3 219.57 L451.15 213.9 L452 208.6 L453.1 200.81 L454.2 192 L455.4 187 L456.2 191.15 L457 196 L457.85 207.31 L458.7 218.7 L459.55 223.05 L460.4 227.1 L461.23 231.77 L462.07 234.98 L462.9 238.9 L463.93 239.21 L464.97 240.3 L466 241 L466 241.2 Z" fill="#c9c9c9" stroke="#b8b8b8" stroke-width="0.4"/>
<path d="M437.5 241 L438.38 241 L439.25 241 L440.12 241 L441 241 L441.83 240.78 L442.67 240.57 L443.5 240.35 L444.33 240.13 L445.17 239.92 L446 239.7 L446.85 238.51 L447.7 237.31 L448.55 236.93 L449.4 235.25 L450.25 234.83 L451.1 233.8 L451.95 231.11 L452.8 228.22 L453.65 226.23 L454.5 223.7 L455.35 220.64 L456.2 218.7 L457 212.72 L457.8 206.9 L458.65 203.03 L459.5 200.2 L460.35 198.01 L461.2 196.8 L462 190.1 L462.85 186.66 L463.7 183.4 L464.9 181.7 L466.3 190.1 L467.9 206.9 L468.75 215.69 L469.6 223.7 L470.45 230 L471.3 237.2 L472.15 238.77 L473 241 L473.8 241 L474.6 241 L475.4 241 L476.2 241 L477 241" fill="none" stroke="#1e1e1e" stroke-width="0.7" stroke-linejoin="round"/>
<path d="M484.4 241.2 L484.4 241 L485.25 238.57 L486.1 235.36 L486.95 231.71 L487.8 228.8 L488.62 224.59 L489.45 221.27 L490.28 217.3 L491.1 213.7 L491.93 208.58 L492.77 202.08 L493.6 196.8 L494.47 193.69 L495.33 190.82 L496.2 187.6 L497.03 189.17 L497.87 189.28 L498.7 190.1 L499.53 197.01 L500.37 205.16 L501.2 212 L502.03 218.91 L502.87 224.95 L503.7 232.1 L504.55 235.06 L505.4 237.42 L506.25 239.33 L507.1 241 L507.1 241.2 Z" fill="#c9c9c9" stroke="#b8b8b8" stroke-width="0.4"/>
<path d="M478 241 L478.5 240.5 L479.34 240.03 L480.19 239.35 L481.03 238.67 L481.87 238.8 L482.71 237.63 L483.56 237.71 L484.4 237.2 L485.24 235.7 L486.08 233.99 L486.92 233.19 L487.76 231.28 L488.6 230.5 L489.45 227.47 L490.3 224.08 L491.15 221.16 L492 218.7 L492.83 213.01 L493.67 207.89 L494.5 201.9 L495.35 198.9 L496.2 196.8 L497.5 191.8 L498.7 188.4 L499.9 182.1 L501.2 193.5 L502.05 200.72 L502.9 208.6 L503.9 217.15 L504.9 225.4 L506 231.84 L507.1 237.2 L507.94 238.05 L508.78 238.6 L509.62 240.05 L510.46 240.24 L511.3 241 L512.17 241 L513.04 241 L513.91 241 L514.78 241 L515.65 241 L516.52 241 L517.39 241 L518.26 241 L519.13 241 L520 241" fill="none" stroke="#1e1e1e" stroke-width="0.7" stroke-linejoin="round"/>
<path d="M403.2 241.2 V177.7 H520 M436.4 177.7 V241.2 M478 177.7 V241.2 M403.2 241.2 H520" fill="none" stroke="#999" stroke-width="0.9"/>
<line x1="401.8" y1="179" x2="403.2" y2="179" stroke="#777" stroke-width="0.5"/>
<line x1="401.8" y1="181.4" x2="403.2" y2="181.4" stroke="#777" stroke-width="0.5"/>
<line x1="401.8" y1="183.8" x2="403.2" y2="183.8" stroke="#777" stroke-width="0.5"/>
<line x1="401.8" y1="186.2" x2="403.2" y2="186.2" stroke="#777" stroke-width="0.5"/>
<line x1="401.8" y1="188.6" x2="403.2" y2="188.6" stroke="#777" stroke-width="0.5"/>
<line x1="401.8" y1="191" x2="403.2" y2="191" stroke="#777" stroke-width="0.5"/>
<line x1="401.8" y1="193.4" x2="403.2" y2="193.4" stroke="#777" stroke-width="0.5"/>
<line x1="401.8" y1="195.8" x2="403.2" y2="195.8" stroke="#777" stroke-width="0.5"/>
<line x1="401.8" y1="198.2" x2="403.2" y2="198.2" stroke="#777" stroke-width="0.5"/>
<line x1="401.8" y1="200.6" x2="403.2" y2="200.6" stroke="#777" stroke-width="0.5"/>
<line x1="401.8" y1="203" x2="403.2" y2="203" stroke="#777" stroke-width="0.5"/>
<line x1="401.8" y1="205.4" x2="403.2" y2="205.4" stroke="#777" stroke-width="0.5"/>
<line x1="401.8" y1="207.8" x2="403.2" y2="207.8" stroke="#777" stroke-width="0.5"/>
<line x1="401.8" y1="210.2" x2="403.2" y2="210.2" stroke="#777" stroke-width="0.5"/>
<line x1="401.8" y1="212.6" x2="403.2" y2="212.6" stroke="#777" stroke-width="0.5"/>
<line x1="401.8" y1="215" x2="403.2" y2="215" stroke="#777" stroke-width="0.5"/>
<line x1="401.8" y1="217.4" x2="403.2" y2="217.4" stroke="#777" stroke-width="0.5"/>
<line x1="401.8" y1="219.8" x2="403.2" y2="219.8" stroke="#777" stroke-width="0.5"/>
<line x1="401.8" y1="222.2" x2="403.2" y2="222.2" stroke="#777" stroke-width="0.5"/>
<line x1="401.8" y1="224.6" x2="403.2" y2="224.6" stroke="#777" stroke-width="0.5"/>
<line x1="401.8" y1="227" x2="403.2" y2="227" stroke="#777" stroke-width="0.5"/>
<line x1="401.8" y1="229.4" x2="403.2" y2="229.4" stroke="#777" stroke-width="0.5"/>
<line x1="401.8" y1="231.8" x2="403.2" y2="231.8" stroke="#777" stroke-width="0.5"/>
<line x1="401.8" y1="234.2" x2="403.2" y2="234.2" stroke="#777" stroke-width="0.5"/>
<line x1="401.8" y1="236.6" x2="403.2" y2="236.6" stroke="#777" stroke-width="0.5"/>
<line x1="401.8" y1="239" x2="403.2" y2="239" stroke="#777" stroke-width="0.5"/>
<line x1="401" y1="180.9" x2="403.2" y2="180.9" stroke="#333" stroke-width="0.7"/>
<text x="400.4" y="182" font-size="3.2" text-anchor="end" font-weight="bold">100</text>
<line x1="401" y1="192.8" x2="403.2" y2="192.8" stroke="#333" stroke-width="0.7"/>
<text x="400.4" y="193.9" font-size="3.2" text-anchor="end" font-weight="bold">80</text>
<line x1="401" y1="205.2" x2="403.2" y2="205.2" stroke="#333" stroke-width="0.7"/>
<text x="400.4" y="206.3" font-size="3.2" text-anchor="end" font-weight="bold">60</text>
<line x1="401" y1="217.6" x2="403.2" y2="217.6" stroke="#333" stroke-width="0.7"/>
<text x="400.4" y="218.7" font-size="3.2" text-anchor="end" font-weight="bold">40</text>
<line x1="401" y1="230" x2="403.2" y2="230" stroke="#333" stroke-width="0.7"/>
<text x="400.4" y="231.1" font-size="3.2" text-anchor="end" font-weight="bold">20</text>
<line x1="401" y1="241" x2="403.2" y2="241" stroke="#333" stroke-width="0.7"/>
<text x="400.4" y="242.1" font-size="3.2" text-anchor="end" font-weight="bold">0</text>
<line x1="408" y1="241.2" x2="408" y2="243.2" stroke="#333" stroke-width="0.6"/>
<text x="408" y="247.6" font-size="3.4" text-anchor="middle" font-weight="bold">10<tspan font-size="2.4" dy="-1.4">3</tspan></text>
<line x1="419.8" y1="241.2" x2="419.8" y2="243.2" stroke="#333" stroke-width="0.6"/>
<text x="419.8" y="247.6" font-size="3.4" text-anchor="middle" font-weight="bold">10<tspan font-size="2.4" dy="-1.4">3</tspan></text>
<line x1="430.7" y1="241.2" x2="430.7" y2="243.2" stroke="#333" stroke-width="0.6"/>
<text x="430.7" y="247.6" font-size="3.4" text-anchor="middle" font-weight="bold">10<tspan font-size="2.4" dy="-1.4">3</tspan></text>
<line x1="447.9" y1="241.2" x2="447.9" y2="243.2" stroke="#333" stroke-width="0.6"/>
<text x="447.9" y="247.6" font-size="3.4" text-anchor="middle" font-weight="bold">10<tspan font-size="2.4" dy="-1.4">3</tspan></text>
<line x1="459" y1="241.2" x2="459" y2="243.2" stroke="#333" stroke-width="0.6"/>
<text x="459" y="247.6" font-size="3.4" text-anchor="middle" font-weight="bold">10<tspan font-size="2.4" dy="-1.4">3</tspan></text>
<line x1="470" y1="241.2" x2="470" y2="243.2" stroke="#333" stroke-width="0.6"/>
<text x="470" y="247.6" font-size="3.4" text-anchor="middle" font-weight="bold">10<tspan font-size="2.4" dy="-1.4">3</tspan></text>
<line x1="488" y1="241.2" x2="488" y2="243.2" stroke="#333" stroke-width="0.6"/>
<text x="488" y="247.6" font-size="3.4" text-anchor="middle" font-weight="bold">10<tspan font-size="2.4" dy="-1.4">3</tspan></text>
<line x1="499" y1="241.2" x2="499" y2="243.2" stroke="#333" stroke-width="0.6"/>
<text x="499" y="247.6" font-size="3.4" text-anchor="middle" font-weight="bold">10<tspan font-size="2.4" dy="-1.4">3</tspan></text>
<line x1="510" y1="241.2" x2="510" y2="243.2" stroke="#333" stroke-width="0.6"/>
<text x="510" y="247.6" font-size="3.4" text-anchor="middle" font-weight="bold">10<tspan font-size="2.4" dy="-1.4">3</tspan></text>
<line x1="391.7" y1="252.9" x2="391.7" y2="212.5" stroke="#000" stroke-width="1.3"/>
<path d="M391.7 206 L389 213 L394.4 213 Z" fill="#000" stroke="none" stroke-width="1"/>
<line x1="391.05" y1="252.4" x2="431.2" y2="252.4" stroke="#000" stroke-width="1.3"/>
<path d="M437.7 252.4 L430.7 249.7 L430.7 255.1 Z" fill="#000" stroke="none" stroke-width="1"/>
<text x="385.5" y="240.69" font-size="8.4" text-anchor="middle" font-weight="bold" textLength="23.6" lengthAdjust="spacingAndGlyphs" transform="rotate(-90 385.5 237.8)">% max</text>
<text x="427.5" y="261.45" font-size="8" text-anchor="middle" stroke="#000" stroke-width="0.36" textLength="73" lengthAdjust="spacingAndGlyphs">Fluorescence intensity</text>
<text x="391" y="269.41" font-size="7.6" text-anchor="start" stroke="#000" stroke-width="0.34" textLength="82.5" lengthAdjust="spacingAndGlyphs">(gated on CD11b<tspan font-size="4.5" dy="-2.6">+</tspan><tspan dy="2.6"> F4/80</tspan><tspan font-size="4.5" dy="-2.6">+</tspan><tspan dy="2.6">)</tspan></text>
<text x="-0.6" y="298.43" font-size="15.5" text-anchor="start" font-weight="bold" textLength="8.6" lengthAdjust="spacingAndGlyphs">F</text>
<rect x="24.4" y="289.1" width="13" height="7.8" fill="#fff" stroke="#000" stroke-width="1.8"/>
<rect x="58.9" y="289.5" width="14.5" height="8.2" fill="#000"/>
<text x="46" y="296.13" font-size="9.4" text-anchor="middle" font-weight="bold" textLength="13.4" lengthAdjust="spacingAndGlyphs">WT</text>
<text x="86.6" y="296.46" font-size="8.6" text-anchor="middle" font-weight="bold" textLength="23.2" lengthAdjust="spacingAndGlyphs">hIAPP</text>
<text x="104.65" y="293.66" font-size="5.4" text-anchor="middle" font-weight="bold" textLength="12.5" lengthAdjust="spacingAndGlyphs">Tg/o</text>
<line x1="42.6" y1="306.3" x2="42.6" y2="391.6" stroke="#000" stroke-width="1.45"/>
<line x1="39.2" y1="390.9" x2="42.6" y2="390.9" stroke="#000" stroke-width="1.2"/>
<text x="39.1" y="393.1" font-size="6.4" text-anchor="end" stroke="#111" stroke-width="0.29" fill="#111" textLength="3.5" lengthAdjust="spacingAndGlyphs">0</text>
<line x1="39.2" y1="369.92" x2="42.6" y2="369.92" stroke="#000" stroke-width="1.2"/>
<text x="39.1" y="372.13" font-size="6.4" text-anchor="end" stroke="#111" stroke-width="0.29" fill="#111" textLength="3.5" lengthAdjust="spacingAndGlyphs">5</text>
<line x1="39.2" y1="348.95" x2="42.6" y2="348.95" stroke="#000" stroke-width="1.2"/>
<text x="39.1" y="351.15" font-size="6.4" text-anchor="end" stroke="#111" stroke-width="0.29" fill="#111" textLength="7" lengthAdjust="spacingAndGlyphs">10</text>
<line x1="39.2" y1="327.98" x2="42.6" y2="327.98" stroke="#000" stroke-width="1.2"/>
<text x="39.1" y="330.18" font-size="6.4" text-anchor="end" stroke="#111" stroke-width="0.29" fill="#111" textLength="7" lengthAdjust="spacingAndGlyphs">15</text>
<line x1="39.2" y1="307" x2="42.6" y2="307" stroke="#000" stroke-width="1.2"/>
<text x="39.1" y="309.2" font-size="6.4" text-anchor="end" stroke="#111" stroke-width="0.29" fill="#111" textLength="7" lengthAdjust="spacingAndGlyphs">20</text>
<line x1="41.9" y1="390.9" x2="98.8" y2="390.9" stroke="#000" stroke-width="1.45"/>
<line x1="56.1" y1="390.9" x2="56.1" y2="394.1" stroke="#000" stroke-width="1.2"/>
<line x1="84.4" y1="390.9" x2="84.4" y2="394.1" stroke="#000" stroke-width="1.2"/>
<rect x="47.95" y="386.45" width="5.6" height="4.45" fill="#fff" stroke="#000" stroke-width="1.3"/>
<line x1="50.75" y1="385" x2="50.75" y2="386.3" stroke="#000" stroke-width="1.2"/>
<line x1="48.55" y1="385" x2="52.95" y2="385" stroke="#000" stroke-width="1.2"/>
<rect x="58" y="383.9" width="7.3" height="7" fill="#000"/>
<line x1="61.65" y1="382.6" x2="61.65" y2="384.4" stroke="#000" stroke-width="1.2"/>
<line x1="59.45" y1="382.6" x2="63.85" y2="382.6" stroke="#000" stroke-width="1.2"/>
<rect x="77.15" y="340.55" width="4.9" height="50.35" fill="#fff" stroke="#000" stroke-width="1.3"/>
<line x1="79.6" y1="338" x2="79.6" y2="340.4" stroke="#000" stroke-width="1.2"/>
<line x1="77.4" y1="338" x2="81.8" y2="338" stroke="#000" stroke-width="1.2"/>
<rect x="85.9" y="333.2" width="7.6" height="57.7" fill="#000"/>
<line x1="89.7" y1="330.1" x2="89.7" y2="333.7" stroke="#000" stroke-width="1.2"/>
<line x1="87.5" y1="330.1" x2="91.9" y2="330.1" stroke="#000" stroke-width="1.2"/>
<text x="70.8" y="312.4" font-size="9.3" text-anchor="middle" font-weight="bold" font-style="italic" textLength="19.2" lengthAdjust="spacingAndGlyphs">Itgam</text>
<line x1="60.4" y1="326.5" x2="89.6" y2="326.5" stroke="#000" stroke-width="1.3"/>
<circle cx="72.25" cy="323.9" r="1.05" fill="#000"/>
<circle cx="75" cy="323.9" r="1.05" fill="#000"/>
<circle cx="77.75" cy="323.9" r="1.05" fill="#000"/>
<line x1="49.9" y1="333.8" x2="79.6" y2="333.8" stroke="#000" stroke-width="1.3"/>
<circle cx="61.45" cy="331.6" r="1.05" fill="#000"/>
<circle cx="64.2" cy="331.6" r="1.05" fill="#000"/>
<circle cx="66.95" cy="331.6" r="1.05" fill="#000"/>
<text x="45.8" y="401.57" font-size="6.3" text-anchor="start" stroke="#000" stroke-width="0.28" textLength="20.5" lengthAdjust="spacingAndGlyphs">CD11b<tspan font-size="4.2" dy="-2.4">-</tspan></text>
<text x="73.9" y="401.57" font-size="6.3" text-anchor="start" stroke="#000" stroke-width="0.28" textLength="21" lengthAdjust="spacingAndGlyphs">CD11b<tspan font-size="4.2" dy="-2.4">+</tspan></text>
<line x1="111.2" y1="305.1" x2="111.2" y2="391.8" stroke="#000" stroke-width="1.45"/>
<line x1="107.8" y1="391.1" x2="111.2" y2="391.1" stroke="#000" stroke-width="1.2"/>
<text x="107.7" y="393.3" font-size="6.4" text-anchor="end" stroke="#111" stroke-width="0.29" fill="#111" textLength="3.5" lengthAdjust="spacingAndGlyphs">0</text>
<line x1="107.8" y1="369.78" x2="111.2" y2="369.78" stroke="#000" stroke-width="1.2"/>
<text x="107.7" y="371.98" font-size="6.4" text-anchor="end" stroke="#111" stroke-width="0.29" fill="#111" textLength="7" lengthAdjust="spacingAndGlyphs">30</text>
<line x1="107.8" y1="348.45" x2="111.2" y2="348.45" stroke="#000" stroke-width="1.2"/>
<text x="107.7" y="350.65" font-size="6.4" text-anchor="end" stroke="#111" stroke-width="0.29" fill="#111" textLength="7" lengthAdjust="spacingAndGlyphs">60</text>
<line x1="107.8" y1="327.12" x2="111.2" y2="327.12" stroke="#000" stroke-width="1.2"/>
<text x="107.7" y="329.33" font-size="6.4" text-anchor="end" stroke="#111" stroke-width="0.29" fill="#111" textLength="7" lengthAdjust="spacingAndGlyphs">90</text>
<line x1="107.8" y1="305.8" x2="111.2" y2="305.8" stroke="#000" stroke-width="1.2"/>
<text x="107.7" y="308" font-size="6.4" text-anchor="end" stroke="#111" stroke-width="0.29" fill="#111" textLength="10.5" lengthAdjust="spacingAndGlyphs">120</text>
<line x1="110.5" y1="391.1" x2="168" y2="391.1" stroke="#000" stroke-width="1.45"/>
<line x1="125.2" y1="391.1" x2="125.2" y2="394.3" stroke="#000" stroke-width="1.2"/>
<line x1="153.5" y1="391.1" x2="153.5" y2="394.3" stroke="#000" stroke-width="1.2"/>
<rect x="116.65" y="390.95" width="5.2" height="0.15" fill="#fff" stroke="#000" stroke-width="1.3"/>
<rect x="126" y="390.5" width="7" height="0.6" fill="#000"/>
<rect x="145.25" y="350.75" width="6.1" height="40.35" fill="#fff" stroke="#000" stroke-width="1.3"/>
<line x1="148.3" y1="349" x2="148.3" y2="350.6" stroke="#000" stroke-width="1.2"/>
<line x1="146.1" y1="349" x2="150.5" y2="349" stroke="#000" stroke-width="1.2"/>
<rect x="155" y="349.4" width="8.2" height="41.7" fill="#000"/>
<line x1="159.1" y1="335.4" x2="159.1" y2="349.9" stroke="#000" stroke-width="1.2"/>
<line x1="156.9" y1="335.4" x2="161.3" y2="335.4" stroke="#000" stroke-width="1.2"/>
<text x="140.6" y="312.4" font-size="9.3" text-anchor="middle" font-weight="bold" font-style="italic" textLength="11.8" lengthAdjust="spacingAndGlyphs">Tnf</text>
<line x1="128.8" y1="331.8" x2="158.8" y2="331.8" stroke="#000" stroke-width="1.3"/>
<circle cx="139.95" cy="329.5" r="1.05" fill="#000"/>
<circle cx="142.7" cy="329.5" r="1.05" fill="#000"/>
<circle cx="145.45" cy="329.5" r="1.05" fill="#000"/>
<line x1="118" y1="346.2" x2="148" y2="346.2" stroke="#000" stroke-width="1.3"/>
<circle cx="130.75" cy="343.8" r="1.05" fill="#000"/>
<circle cx="133.5" cy="343.8" r="1.05" fill="#000"/>
<circle cx="136.25" cy="343.8" r="1.05" fill="#000"/>
<text x="114.9" y="401.77" font-size="6.3" text-anchor="start" stroke="#000" stroke-width="0.28" textLength="20.5" lengthAdjust="spacingAndGlyphs">CD11b<tspan font-size="4.2" dy="-2.4">-</tspan></text>
<text x="143" y="401.77" font-size="6.3" text-anchor="start" stroke="#000" stroke-width="0.28" textLength="21" lengthAdjust="spacingAndGlyphs">CD11b<tspan font-size="4.2" dy="-2.4">+</tspan></text>
<line x1="187.4" y1="306.3" x2="187.4" y2="391.9" stroke="#000" stroke-width="1.45"/>
<line x1="184" y1="391.2" x2="187.4" y2="391.2" stroke="#000" stroke-width="1.2"/>
<text x="183.9" y="393.4" font-size="6.4" text-anchor="end" stroke="#111" stroke-width="0.29" fill="#111" textLength="8.6" lengthAdjust="spacingAndGlyphs">0.0</text>
<line x1="184" y1="370.15" x2="187.4" y2="370.15" stroke="#000" stroke-width="1.2"/>
<text x="183.9" y="372.35" font-size="6.4" text-anchor="end" stroke="#111" stroke-width="0.29" fill="#111" textLength="8.6" lengthAdjust="spacingAndGlyphs">0.5</text>
<line x1="184" y1="349.1" x2="187.4" y2="349.1" stroke="#000" stroke-width="1.2"/>
<text x="183.9" y="351.3" font-size="6.4" text-anchor="end" stroke="#111" stroke-width="0.29" fill="#111" textLength="8.6" lengthAdjust="spacingAndGlyphs">1.0</text>
<line x1="184" y1="328.05" x2="187.4" y2="328.05" stroke="#000" stroke-width="1.2"/>
<text x="183.9" y="330.25" font-size="6.4" text-anchor="end" stroke="#111" stroke-width="0.29" fill="#111" textLength="8.6" lengthAdjust="spacingAndGlyphs">1.5</text>
<line x1="184" y1="307" x2="187.4" y2="307" stroke="#000" stroke-width="1.2"/>
<text x="183.9" y="309.2" font-size="6.4" text-anchor="end" stroke="#111" stroke-width="0.29" fill="#111" textLength="8.6" lengthAdjust="spacingAndGlyphs">2.0</text>
<line x1="186.7" y1="391.2" x2="243.5" y2="391.2" stroke="#000" stroke-width="1.45"/>
<line x1="201.2" y1="391.2" x2="201.2" y2="394.4" stroke="#000" stroke-width="1.2"/>
<line x1="229" y1="391.2" x2="229" y2="394.4" stroke="#000" stroke-width="1.2"/>
<rect x="193.35" y="348.65" width="5.6" height="42.55" fill="#fff" stroke="#000" stroke-width="1.3"/>
<line x1="196.15" y1="342.8" x2="196.15" y2="348.5" stroke="#000" stroke-width="1.2"/>
<line x1="193.95" y1="342.8" x2="198.35" y2="342.8" stroke="#000" stroke-width="1.2"/>
<rect x="202.7" y="339.3" width="8.1" height="51.9" fill="#000"/>
<line x1="206.75" y1="337" x2="206.75" y2="339.8" stroke="#000" stroke-width="1.2"/>
<line x1="204.55" y1="337" x2="208.95" y2="337" stroke="#000" stroke-width="1.2"/>
<rect x="220.65" y="345.15" width="6" height="46.05" fill="#fff" stroke="#000" stroke-width="1.3"/>
<line x1="223.65" y1="342.3" x2="223.65" y2="345" stroke="#000" stroke-width="1.2"/>
<line x1="221.45" y1="342.3" x2="225.85" y2="342.3" stroke="#000" stroke-width="1.2"/>
<rect x="230.7" y="354.9" width="7.8" height="36.3" fill="#000"/>
<line x1="234.6" y1="345.7" x2="234.6" y2="355.4" stroke="#000" stroke-width="1.2"/>
<line x1="232.4" y1="345.7" x2="236.8" y2="345.7" stroke="#000" stroke-width="1.2"/>
<text x="215.85" y="312.2" font-size="9.3" text-anchor="middle" font-weight="bold" font-style="italic" textLength="15.9" lengthAdjust="spacingAndGlyphs">Ccl2</text>
<text x="190.9" y="401.87" font-size="6.3" text-anchor="start" stroke="#000" stroke-width="0.28" textLength="20.5" lengthAdjust="spacingAndGlyphs">CD11b<tspan font-size="4.2" dy="-2.4">-</tspan></text>
<text x="218.5" y="401.87" font-size="6.3" text-anchor="start" stroke="#000" stroke-width="0.28" textLength="21" lengthAdjust="spacingAndGlyphs">CD11b<tspan font-size="4.2" dy="-2.4">+</tspan></text>
<line x1="255.7" y1="305.2" x2="255.7" y2="391.4" stroke="#000" stroke-width="1.45"/>
<line x1="252.3" y1="390.7" x2="255.7" y2="390.7" stroke="#000" stroke-width="1.2"/>
<text x="252.2" y="392.9" font-size="6.4" text-anchor="end" stroke="#111" stroke-width="0.29" fill="#111" textLength="3.5" lengthAdjust="spacingAndGlyphs">0</text>
<line x1="252.3" y1="369.5" x2="255.7" y2="369.5" stroke="#000" stroke-width="1.2"/>
<text x="252.2" y="371.7" font-size="6.4" text-anchor="end" stroke="#111" stroke-width="0.29" fill="#111" textLength="10.5" lengthAdjust="spacingAndGlyphs">200</text>
<line x1="252.3" y1="348.3" x2="255.7" y2="348.3" stroke="#000" stroke-width="1.2"/>
<text x="252.2" y="350.5" font-size="6.4" text-anchor="end" stroke="#111" stroke-width="0.29" fill="#111" textLength="10.5" lengthAdjust="spacingAndGlyphs">400</text>
<line x1="252.3" y1="327.1" x2="255.7" y2="327.1" stroke="#000" stroke-width="1.2"/>
<text x="252.2" y="329.3" font-size="6.4" text-anchor="end" stroke="#111" stroke-width="0.29" fill="#111" textLength="10.5" lengthAdjust="spacingAndGlyphs">600</text>
<line x1="252.3" y1="305.9" x2="255.7" y2="305.9" stroke="#000" stroke-width="1.2"/>
<text x="252.2" y="308.1" font-size="6.4" text-anchor="end" stroke="#111" stroke-width="0.29" fill="#111" textLength="10.5" lengthAdjust="spacingAndGlyphs">800</text>
<line x1="255" y1="390.7" x2="311.9" y2="390.7" stroke="#000" stroke-width="1.45"/>
<line x1="269.5" y1="390.7" x2="269.5" y2="393.9" stroke="#000" stroke-width="1.2"/>
<line x1="297.3" y1="390.7" x2="297.3" y2="393.9" stroke="#000" stroke-width="1.2"/>
<rect x="261.05" y="390.65" width="4.3" height="0.05" fill="#fff" stroke="#000" stroke-width="1.3"/>
<rect x="270" y="389.8" width="7" height="0.9" fill="#000"/>
<rect x="289.05" y="359.05" width="6" height="31.65" fill="#fff" stroke="#000" stroke-width="1.3"/>
<line x1="292.05" y1="353.2" x2="292.05" y2="358.9" stroke="#000" stroke-width="1.2"/>
<line x1="289.85" y1="353.2" x2="294.25" y2="353.2" stroke="#000" stroke-width="1.2"/>
<rect x="298.8" y="339.8" width="7.8" height="50.9" fill="#000"/>
<line x1="302.7" y1="335.8" x2="302.7" y2="340.3" stroke="#000" stroke-width="1.2"/>
<line x1="300.5" y1="335.8" x2="304.9" y2="335.8" stroke="#000" stroke-width="1.2"/>
<text x="283.95" y="311.9" font-size="9.3" text-anchor="middle" font-weight="bold" font-style="italic" textLength="12.5" lengthAdjust="spacingAndGlyphs">Il1b</text>
<line x1="272.9" y1="326.9" x2="302.3" y2="326.9" stroke="#000" stroke-width="1.3"/>
<circle cx="283.95" cy="324.4" r="1.05" fill="#000"/>
<circle cx="286.7" cy="324.4" r="1.05" fill="#000"/>
<circle cx="289.45" cy="324.4" r="1.05" fill="#000"/>
<line x1="291" y1="332.4" x2="302.3" y2="332.4" stroke="#000" stroke-width="1.3"/>
<circle cx="296.7" cy="330.4" r="1.05" fill="#000"/>
<line x1="263.4" y1="348.5" x2="292.8" y2="348.5" stroke="#000" stroke-width="1.3"/>
<circle cx="274.45" cy="346.1" r="1.05" fill="#000"/>
<circle cx="277.2" cy="346.1" r="1.05" fill="#000"/>
<circle cx="279.95" cy="346.1" r="1.05" fill="#000"/>
<text x="259.2" y="401.37" font-size="6.3" text-anchor="start" stroke="#000" stroke-width="0.28" textLength="20.5" lengthAdjust="spacingAndGlyphs">CD11b<tspan font-size="4.2" dy="-2.4">-</tspan></text>
<text x="286.8" y="401.37" font-size="6.3" text-anchor="start" stroke="#000" stroke-width="0.28" textLength="21" lengthAdjust="spacingAndGlyphs">CD11b<tspan font-size="4.2" dy="-2.4">+</tspan></text>
<line x1="325.7" y1="304.9" x2="325.7" y2="391.4" stroke="#000" stroke-width="1.45"/>
<line x1="322.3" y1="390.7" x2="325.7" y2="390.7" stroke="#000" stroke-width="1.2"/>
<text x="322.2" y="392.9" font-size="6.4" text-anchor="end" stroke="#111" stroke-width="0.29" fill="#111" textLength="3.5" lengthAdjust="spacingAndGlyphs">0</text>
<line x1="322.3" y1="369.43" x2="325.7" y2="369.43" stroke="#000" stroke-width="1.2"/>
<text x="322.2" y="371.63" font-size="6.4" text-anchor="end" stroke="#111" stroke-width="0.29" fill="#111" textLength="3.5" lengthAdjust="spacingAndGlyphs">2</text>
<line x1="322.3" y1="348.15" x2="325.7" y2="348.15" stroke="#000" stroke-width="1.2"/>
<text x="322.2" y="350.35" font-size="6.4" text-anchor="end" stroke="#111" stroke-width="0.29" fill="#111" textLength="3.5" lengthAdjust="spacingAndGlyphs">4</text>
<line x1="322.3" y1="326.88" x2="325.7" y2="326.88" stroke="#000" stroke-width="1.2"/>
<text x="322.2" y="329.08" font-size="6.4" text-anchor="end" stroke="#111" stroke-width="0.29" fill="#111" textLength="3.5" lengthAdjust="spacingAndGlyphs">6</text>
<line x1="322.3" y1="305.6" x2="325.7" y2="305.6" stroke="#000" stroke-width="1.2"/>
<text x="322.2" y="307.8" font-size="6.4" text-anchor="end" stroke="#111" stroke-width="0.29" fill="#111" textLength="3.5" lengthAdjust="spacingAndGlyphs">8</text>
<line x1="325" y1="390.7" x2="381.3" y2="390.7" stroke="#000" stroke-width="1.45"/>
<line x1="339.5" y1="390.7" x2="339.5" y2="393.9" stroke="#000" stroke-width="1.2"/>
<line x1="367.6" y1="390.7" x2="367.6" y2="393.9" stroke="#000" stroke-width="1.2"/>
<rect x="331.65" y="380.15" width="5.6" height="10.55" fill="#fff" stroke="#000" stroke-width="1.3"/>
<rect x="340.5" y="376.2" width="8.3" height="14.5" fill="#000"/>
<line x1="344.65" y1="373.9" x2="344.65" y2="376.7" stroke="#000" stroke-width="1.2"/>
<line x1="342.45" y1="373.9" x2="346.85" y2="373.9" stroke="#000" stroke-width="1.2"/>
<rect x="358.75" y="348.15" width="6.2" height="42.55" fill="#fff" stroke="#000" stroke-width="1.3"/>
<line x1="361.85" y1="343.3" x2="361.85" y2="348" stroke="#000" stroke-width="1.2"/>
<line x1="359.65" y1="343.3" x2="364.05" y2="343.3" stroke="#000" stroke-width="1.2"/>
<rect x="368.5" y="336.4" width="8.3" height="54.3" fill="#000"/>
<text x="353.9" y="312.2" font-size="9.3" text-anchor="middle" font-weight="bold" font-style="italic" textLength="19.8" lengthAdjust="spacingAndGlyphs">Nlrp3</text>
<line x1="344" y1="332.4" x2="373" y2="332.4" stroke="#000" stroke-width="1.3"/>
<circle cx="355.05" cy="329.9" r="1.05" fill="#000"/>
<circle cx="357.8" cy="329.9" r="1.05" fill="#000"/>
<circle cx="360.55" cy="329.9" r="1.05" fill="#000"/>
<line x1="334.4" y1="339.8" x2="363.3" y2="339.8" stroke="#000" stroke-width="1.3"/>
<circle cx="346.05" cy="337" r="1.05" fill="#000"/>
<circle cx="348.8" cy="337" r="1.05" fill="#000"/>
<circle cx="351.55" cy="337" r="1.05" fill="#000"/>
<text x="329.2" y="401.37" font-size="6.3" text-anchor="start" stroke="#000" stroke-width="0.28" textLength="20.5" lengthAdjust="spacingAndGlyphs">CD11b<tspan font-size="4.2" dy="-2.4">-</tspan></text>
<text x="357.1" y="401.37" font-size="6.3" text-anchor="start" stroke="#000" stroke-width="0.28" textLength="21" lengthAdjust="spacingAndGlyphs">CD11b<tspan font-size="4.2" dy="-2.4">+</tspan></text>
<line x1="391.3" y1="304.4" x2="391.3" y2="391.5" stroke="#000" stroke-width="1.45"/>
<line x1="387.9" y1="390.8" x2="391.3" y2="390.8" stroke="#000" stroke-width="1.2"/>
<text x="387.8" y="393" font-size="6.4" text-anchor="end" stroke="#111" stroke-width="0.29" fill="#111" textLength="3.5" lengthAdjust="spacingAndGlyphs">0</text>
<line x1="387.9" y1="362.23" x2="391.3" y2="362.23" stroke="#000" stroke-width="1.2"/>
<text x="387.8" y="364.43" font-size="6.4" text-anchor="end" stroke="#111" stroke-width="0.29" fill="#111" textLength="3.5" lengthAdjust="spacingAndGlyphs">1</text>
<line x1="387.9" y1="333.67" x2="391.3" y2="333.67" stroke="#000" stroke-width="1.2"/>
<text x="387.8" y="335.87" font-size="6.4" text-anchor="end" stroke="#111" stroke-width="0.29" fill="#111" textLength="3.5" lengthAdjust="spacingAndGlyphs">2</text>
<line x1="387.9" y1="305.1" x2="391.3" y2="305.1" stroke="#000" stroke-width="1.2"/>
<text x="387.8" y="307.3" font-size="6.4" text-anchor="end" stroke="#111" stroke-width="0.29" fill="#111" textLength="3.5" lengthAdjust="spacingAndGlyphs">3</text>
<line x1="390.6" y1="390.8" x2="448.1" y2="390.8" stroke="#000" stroke-width="1.45"/>
<line x1="404.9" y1="390.8" x2="404.9" y2="394" stroke="#000" stroke-width="1.2"/>
<line x1="432.9" y1="390.8" x2="432.9" y2="394" stroke="#000" stroke-width="1.2"/>
<rect x="397.65" y="361.85" width="5.2" height="28.95" fill="#fff" stroke="#000" stroke-width="1.3"/>
<line x1="400.25" y1="359.2" x2="400.25" y2="361.7" stroke="#000" stroke-width="1.2"/>
<line x1="398.05" y1="359.2" x2="402.45" y2="359.2" stroke="#000" stroke-width="1.2"/>
<rect x="406.2" y="363.5" width="8.3" height="27.3" fill="#000"/>
<rect x="424.85" y="344.55" width="5.7" height="46.25" fill="#fff" stroke="#000" stroke-width="1.3"/>
<line x1="427.7" y1="341.2" x2="427.7" y2="344.4" stroke="#000" stroke-width="1.2"/>
<line x1="425.5" y1="341.2" x2="429.9" y2="341.2" stroke="#000" stroke-width="1.2"/>
<rect x="434.5" y="368.1" width="8.2" height="22.7" fill="#000"/>
<line x1="438.6" y1="364.7" x2="438.6" y2="368.6" stroke="#000" stroke-width="1.2"/>
<line x1="436.4" y1="364.7" x2="440.8" y2="364.7" stroke="#000" stroke-width="1.2"/>
<text x="420" y="311.2" font-size="9.3" text-anchor="middle" font-weight="bold" font-style="italic" textLength="13" lengthAdjust="spacingAndGlyphs">Il10</text>
<text x="394.6" y="401.47" font-size="6.3" text-anchor="start" stroke="#000" stroke-width="0.28" textLength="20.5" lengthAdjust="spacingAndGlyphs">CD11b<tspan font-size="4.2" dy="-2.4">-</tspan></text>
<text x="422.4" y="401.47" font-size="6.3" text-anchor="start" stroke="#000" stroke-width="0.28" textLength="21" lengthAdjust="spacingAndGlyphs">CD11b<tspan font-size="4.2" dy="-2.4">+</tspan></text>
<line x1="399.6" y1="339.2" x2="439.6" y2="339.2" stroke="#000" stroke-width="1.3"/>
<circle cx="414.2" cy="336.4" r="1.05" fill="#000"/>
<circle cx="434.2" cy="336.4" r="0.95" fill="#000"/>
<line x1="458.7" y1="305.2" x2="458.7" y2="391.5" stroke="#000" stroke-width="1.45"/>
<line x1="455.3" y1="390.8" x2="458.7" y2="390.8" stroke="#000" stroke-width="1.2"/>
<text x="455.2" y="393" font-size="6.4" text-anchor="end" stroke="#111" stroke-width="0.29" fill="#111" textLength="3.5" lengthAdjust="spacingAndGlyphs">0</text>
<line x1="455.3" y1="369.57" x2="458.7" y2="369.57" stroke="#000" stroke-width="1.2"/>
<text x="455.2" y="371.78" font-size="6.4" text-anchor="end" stroke="#111" stroke-width="0.29" fill="#111" textLength="7" lengthAdjust="spacingAndGlyphs">50</text>
<line x1="455.3" y1="348.35" x2="458.7" y2="348.35" stroke="#000" stroke-width="1.2"/>
<text x="455.2" y="350.55" font-size="6.4" text-anchor="end" stroke="#111" stroke-width="0.29" fill="#111" textLength="10.5" lengthAdjust="spacingAndGlyphs">100</text>
<line x1="455.3" y1="327.12" x2="458.7" y2="327.12" stroke="#000" stroke-width="1.2"/>
<text x="455.2" y="329.33" font-size="6.4" text-anchor="end" stroke="#111" stroke-width="0.29" fill="#111" textLength="10.5" lengthAdjust="spacingAndGlyphs">150</text>
<line x1="455.3" y1="305.9" x2="458.7" y2="305.9" stroke="#000" stroke-width="1.2"/>
<text x="455.2" y="308.1" font-size="6.4" text-anchor="end" stroke="#111" stroke-width="0.29" fill="#111" textLength="10.5" lengthAdjust="spacingAndGlyphs">200</text>
<line x1="458" y1="390.8" x2="516" y2="390.8" stroke="#000" stroke-width="1.45"/>
<line x1="473" y1="390.8" x2="473" y2="394" stroke="#000" stroke-width="1.2"/>
<line x1="501.2" y1="390.8" x2="501.2" y2="394" stroke="#000" stroke-width="1.2"/>
<rect x="463.15" y="390.95" width="6.2" height="-0.15" fill="#fff" stroke="#000" stroke-width="1.3"/>
<rect x="475" y="390.5" width="7" height="0.3" fill="#000"/>
<rect x="492.95" y="342.95" width="6.1" height="47.85" fill="#fff" stroke="#000" stroke-width="1.3"/>
<line x1="496" y1="341" x2="496" y2="342.8" stroke="#000" stroke-width="1.2"/>
<line x1="493.8" y1="341" x2="498.2" y2="341" stroke="#000" stroke-width="1.2"/>
<rect x="502.6" y="375.3" width="7.6" height="15.5" fill="#000"/>
<line x1="506.4" y1="369.5" x2="506.4" y2="375.8" stroke="#000" stroke-width="1.2"/>
<line x1="504.2" y1="369.5" x2="508.6" y2="369.5" stroke="#000" stroke-width="1.2"/>
<text x="487.25" y="312.3" font-size="9.3" text-anchor="middle" font-weight="bold" font-style="italic" textLength="15.5" lengthAdjust="spacingAndGlyphs">Il1rn</text>
<line x1="476.7" y1="331.7" x2="505.9" y2="331.7" stroke="#000" stroke-width="1.3"/>
<circle cx="486.15" cy="329.1" r="1.05" fill="#000"/>
<circle cx="488.9" cy="329.1" r="1.05" fill="#000"/>
<circle cx="491.65" cy="329.1" r="1.05" fill="#000"/>
<line x1="467" y1="339" x2="496.1" y2="339" stroke="#000" stroke-width="1.3"/>
<circle cx="478.25" cy="336.5" r="1.05" fill="#000"/>
<circle cx="481" cy="336.5" r="1.05" fill="#000"/>
<circle cx="483.75" cy="336.5" r="1.05" fill="#000"/>
<line x1="496.8" y1="339" x2="508.8" y2="339" stroke="#000" stroke-width="1.3"/>
<circle cx="500.25" cy="336.8" r="1.05" fill="#000"/>
<circle cx="503" cy="336.8" r="1.05" fill="#000"/>
<circle cx="505.75" cy="336.8" r="1.05" fill="#000"/>
<text x="462.7" y="401.47" font-size="6.3" text-anchor="start" stroke="#000" stroke-width="0.28" textLength="20.5" lengthAdjust="spacingAndGlyphs">CD11b<tspan font-size="4.2" dy="-2.4">-</tspan></text>
<text x="490.7" y="401.47" font-size="6.3" text-anchor="start" stroke="#000" stroke-width="0.28" textLength="21" lengthAdjust="spacingAndGlyphs">CD11b<tspan font-size="4.2" dy="-2.4">+</tspan></text>
<line x1="21.6" y1="406.9" x2="21.6" y2="337.9" stroke="#000" stroke-width="1.3"/>
<path d="M21.6 331.6 L18.6 338.4 L24.6 338.4 Z" fill="#000" stroke="none" stroke-width="1"/>
<line x1="20.95" y1="406.3" x2="89.5" y2="406.3" stroke="#000" stroke-width="1.3"/>
<path d="M95.8 406.3 L89 403.3 L89 409.3 Z" fill="#000" stroke="none" stroke-width="1"/>
<text x="6" y="374.54" font-size="6.8" text-anchor="middle" stroke="#000" stroke-width="0.31" textLength="58.5" lengthAdjust="spacingAndGlyphs" transform="rotate(-90 6 372.2)">mRNA expression</text>
<text x="13.6" y="403.84" font-size="6.8" text-anchor="start" stroke="#000" stroke-width="0.31" textLength="56" lengthAdjust="spacingAndGlyphs" transform="rotate(-90 13.6 401.5)">(fold WT CD11b<tspan font-size="4.2" dy="-2.4">-</tspan><tspan dy="2.4">)</tspan></text>
<text x="47.35" y="415.41" font-size="7.6" text-anchor="middle" stroke="#000" stroke-width="0.34" textLength="57.1" lengthAdjust="spacingAndGlyphs">Sorted population</text>
</svg>
</body></html>
